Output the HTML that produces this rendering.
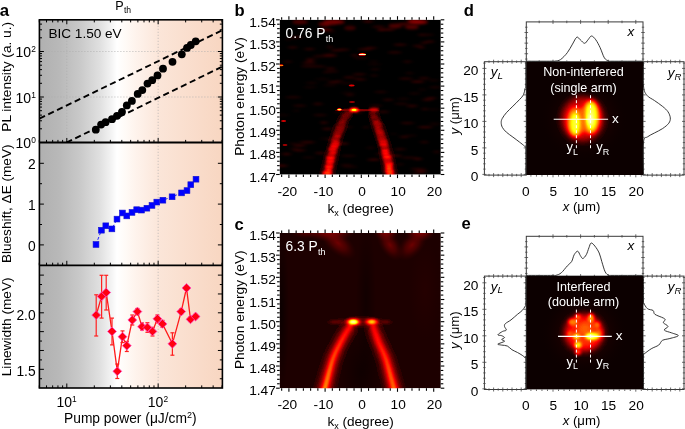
<!DOCTYPE html>
<html><head><meta charset="utf-8"><style>
html,body{margin:0;padding:0;background:#fff;overflow:hidden}
svg{display:block;will-change:transform}
text{font-family:"Liberation Sans", sans-serif}
</style></head><body>
<svg width="685" height="429" viewBox="0 0 685 429">
<rect width="685" height="429" fill="#fff"/>
<defs>
<linearGradient id="ga" gradientUnits="userSpaceOnUse" x1="39.4" y1="0" x2="222.4" y2="0">
<stop offset="0" stop-color="#b0b0b0"/>
<stop offset="0.113" stop-color="#b9b9b9"/>
<stop offset="0.222" stop-color="#c9c9c9"/>
<stop offset="0.331" stop-color="#e0e0e0"/>
<stop offset="0.386" stop-color="#f1f1f1"/>
<stop offset="0.424" stop-color="#ffffff"/>
<stop offset="0.473" stop-color="#fffaf6"/>
<stop offset="0.528" stop-color="#fef3ec"/>
<stop offset="0.577" stop-color="#fdeee5"/>
<stop offset="0.659" stop-color="#fbe5d8"/>
<stop offset="1" stop-color="#f8d6c1"/>
</linearGradient>
</defs>
<rect x="39.4" y="19.8" width="183.0" height="368.2" fill="url(#ga)"/>
<line x1="66.8" y1="19.8" x2="66.8" y2="142.5" stroke="#acacac" stroke-width="0.8" stroke-dasharray="1 2"/>
<line x1="158.15" y1="19.8" x2="158.15" y2="388" stroke="#acacac" stroke-width="0.8" stroke-dasharray="1 2"/>
<line x1="39.4" y1="97" x2="222.4" y2="97" stroke="#acacac" stroke-width="0.8" stroke-dasharray="1 2"/>
<line x1="39.4" y1="51.5" x2="222.4" y2="51.5" stroke="#acacac" stroke-width="0.8" stroke-dasharray="1 2"/>
<line x1="39.3" y1="142.5" x2="39.3" y2="139.9" stroke="#000" stroke-width="1" />
<line x1="39.3" y1="19.8" x2="39.3" y2="22.4" stroke="#000" stroke-width="1" />
<line x1="46.53" y1="142.5" x2="46.53" y2="139.9" stroke="#000" stroke-width="1" />
<line x1="46.53" y1="19.8" x2="46.53" y2="22.4" stroke="#000" stroke-width="1" />
<line x1="52.65" y1="142.5" x2="52.65" y2="139.9" stroke="#000" stroke-width="1" />
<line x1="52.65" y1="19.8" x2="52.65" y2="22.4" stroke="#000" stroke-width="1" />
<line x1="57.95" y1="142.5" x2="57.95" y2="139.9" stroke="#000" stroke-width="1" />
<line x1="57.95" y1="19.8" x2="57.95" y2="22.4" stroke="#000" stroke-width="1" />
<line x1="62.62" y1="142.5" x2="62.62" y2="139.9" stroke="#000" stroke-width="1" />
<line x1="62.62" y1="19.8" x2="62.62" y2="22.4" stroke="#000" stroke-width="1" />
<line x1="66.8" y1="142.5" x2="66.8" y2="138" stroke="#000" stroke-width="1" />
<line x1="66.8" y1="19.8" x2="66.8" y2="24.3" stroke="#000" stroke-width="1" />
<line x1="94.3" y1="142.5" x2="94.3" y2="139.9" stroke="#000" stroke-width="1" />
<line x1="94.3" y1="19.8" x2="94.3" y2="22.4" stroke="#000" stroke-width="1" />
<line x1="110.38" y1="142.5" x2="110.38" y2="139.9" stroke="#000" stroke-width="1" />
<line x1="110.38" y1="19.8" x2="110.38" y2="22.4" stroke="#000" stroke-width="1" />
<line x1="121.8" y1="142.5" x2="121.8" y2="139.9" stroke="#000" stroke-width="1" />
<line x1="121.8" y1="19.8" x2="121.8" y2="22.4" stroke="#000" stroke-width="1" />
<line x1="130.65" y1="142.5" x2="130.65" y2="139.9" stroke="#000" stroke-width="1" />
<line x1="130.65" y1="19.8" x2="130.65" y2="22.4" stroke="#000" stroke-width="1" />
<line x1="137.88" y1="142.5" x2="137.88" y2="139.9" stroke="#000" stroke-width="1" />
<line x1="137.88" y1="19.8" x2="137.88" y2="22.4" stroke="#000" stroke-width="1" />
<line x1="144" y1="142.5" x2="144" y2="139.9" stroke="#000" stroke-width="1" />
<line x1="144" y1="19.8" x2="144" y2="22.4" stroke="#000" stroke-width="1" />
<line x1="149.3" y1="142.5" x2="149.3" y2="139.9" stroke="#000" stroke-width="1" />
<line x1="149.3" y1="19.8" x2="149.3" y2="22.4" stroke="#000" stroke-width="1" />
<line x1="153.97" y1="142.5" x2="153.97" y2="139.9" stroke="#000" stroke-width="1" />
<line x1="153.97" y1="19.8" x2="153.97" y2="22.4" stroke="#000" stroke-width="1" />
<line x1="158.15" y1="142.5" x2="158.15" y2="138" stroke="#000" stroke-width="1" />
<line x1="158.15" y1="19.8" x2="158.15" y2="24.3" stroke="#000" stroke-width="1" />
<line x1="185.65" y1="142.5" x2="185.65" y2="139.9" stroke="#000" stroke-width="1" />
<line x1="185.65" y1="19.8" x2="185.65" y2="22.4" stroke="#000" stroke-width="1" />
<line x1="201.73" y1="142.5" x2="201.73" y2="139.9" stroke="#000" stroke-width="1" />
<line x1="201.73" y1="19.8" x2="201.73" y2="22.4" stroke="#000" stroke-width="1" />
<line x1="213.15" y1="142.5" x2="213.15" y2="139.9" stroke="#000" stroke-width="1" />
<line x1="213.15" y1="19.8" x2="213.15" y2="22.4" stroke="#000" stroke-width="1" />
<line x1="222" y1="142.5" x2="222" y2="139.9" stroke="#000" stroke-width="1" />
<line x1="222" y1="19.8" x2="222" y2="22.4" stroke="#000" stroke-width="1" />
<line x1="39.3" y1="265.3" x2="39.3" y2="262.7" stroke="#000" stroke-width="1" />
<line x1="46.53" y1="265.3" x2="46.53" y2="262.7" stroke="#000" stroke-width="1" />
<line x1="52.65" y1="265.3" x2="52.65" y2="262.7" stroke="#000" stroke-width="1" />
<line x1="57.95" y1="265.3" x2="57.95" y2="262.7" stroke="#000" stroke-width="1" />
<line x1="62.62" y1="265.3" x2="62.62" y2="262.7" stroke="#000" stroke-width="1" />
<line x1="66.8" y1="265.3" x2="66.8" y2="260.8" stroke="#000" stroke-width="1" />
<line x1="94.3" y1="265.3" x2="94.3" y2="262.7" stroke="#000" stroke-width="1" />
<line x1="110.38" y1="265.3" x2="110.38" y2="262.7" stroke="#000" stroke-width="1" />
<line x1="121.8" y1="265.3" x2="121.8" y2="262.7" stroke="#000" stroke-width="1" />
<line x1="130.65" y1="265.3" x2="130.65" y2="262.7" stroke="#000" stroke-width="1" />
<line x1="137.88" y1="265.3" x2="137.88" y2="262.7" stroke="#000" stroke-width="1" />
<line x1="144" y1="265.3" x2="144" y2="262.7" stroke="#000" stroke-width="1" />
<line x1="149.3" y1="265.3" x2="149.3" y2="262.7" stroke="#000" stroke-width="1" />
<line x1="153.97" y1="265.3" x2="153.97" y2="262.7" stroke="#000" stroke-width="1" />
<line x1="158.15" y1="265.3" x2="158.15" y2="260.8" stroke="#000" stroke-width="1" />
<line x1="185.65" y1="265.3" x2="185.65" y2="262.7" stroke="#000" stroke-width="1" />
<line x1="201.73" y1="265.3" x2="201.73" y2="262.7" stroke="#000" stroke-width="1" />
<line x1="213.15" y1="265.3" x2="213.15" y2="262.7" stroke="#000" stroke-width="1" />
<line x1="222" y1="265.3" x2="222" y2="262.7" stroke="#000" stroke-width="1" />
<line x1="39.3" y1="388" x2="39.3" y2="385.4" stroke="#000" stroke-width="1" />
<line x1="46.53" y1="388" x2="46.53" y2="385.4" stroke="#000" stroke-width="1" />
<line x1="52.65" y1="388" x2="52.65" y2="385.4" stroke="#000" stroke-width="1" />
<line x1="57.95" y1="388" x2="57.95" y2="385.4" stroke="#000" stroke-width="1" />
<line x1="62.62" y1="388" x2="62.62" y2="385.4" stroke="#000" stroke-width="1" />
<line x1="66.8" y1="388" x2="66.8" y2="383.5" stroke="#000" stroke-width="1" />
<line x1="94.3" y1="388" x2="94.3" y2="385.4" stroke="#000" stroke-width="1" />
<line x1="110.38" y1="388" x2="110.38" y2="385.4" stroke="#000" stroke-width="1" />
<line x1="121.8" y1="388" x2="121.8" y2="385.4" stroke="#000" stroke-width="1" />
<line x1="130.65" y1="388" x2="130.65" y2="385.4" stroke="#000" stroke-width="1" />
<line x1="137.88" y1="388" x2="137.88" y2="385.4" stroke="#000" stroke-width="1" />
<line x1="144" y1="388" x2="144" y2="385.4" stroke="#000" stroke-width="1" />
<line x1="149.3" y1="388" x2="149.3" y2="385.4" stroke="#000" stroke-width="1" />
<line x1="153.97" y1="388" x2="153.97" y2="385.4" stroke="#000" stroke-width="1" />
<line x1="158.15" y1="388" x2="158.15" y2="383.5" stroke="#000" stroke-width="1" />
<line x1="185.65" y1="388" x2="185.65" y2="385.4" stroke="#000" stroke-width="1" />
<line x1="201.73" y1="388" x2="201.73" y2="385.4" stroke="#000" stroke-width="1" />
<line x1="213.15" y1="388" x2="213.15" y2="385.4" stroke="#000" stroke-width="1" />
<line x1="222" y1="388" x2="222" y2="385.4" stroke="#000" stroke-width="1" />
<line x1="39.4" y1="128.8" x2="42" y2="128.8" stroke="#000" stroke-width="1" />
<line x1="222.4" y1="128.8" x2="219.8" y2="128.8" stroke="#000" stroke-width="1" />
<line x1="39.4" y1="120.79" x2="42" y2="120.79" stroke="#000" stroke-width="1" />
<line x1="222.4" y1="120.79" x2="219.8" y2="120.79" stroke="#000" stroke-width="1" />
<line x1="39.4" y1="115.11" x2="42" y2="115.11" stroke="#000" stroke-width="1" />
<line x1="222.4" y1="115.11" x2="219.8" y2="115.11" stroke="#000" stroke-width="1" />
<line x1="39.4" y1="110.7" x2="42" y2="110.7" stroke="#000" stroke-width="1" />
<line x1="222.4" y1="110.7" x2="219.8" y2="110.7" stroke="#000" stroke-width="1" />
<line x1="39.4" y1="107.09" x2="42" y2="107.09" stroke="#000" stroke-width="1" />
<line x1="222.4" y1="107.09" x2="219.8" y2="107.09" stroke="#000" stroke-width="1" />
<line x1="39.4" y1="104.05" x2="42" y2="104.05" stroke="#000" stroke-width="1" />
<line x1="222.4" y1="104.05" x2="219.8" y2="104.05" stroke="#000" stroke-width="1" />
<line x1="39.4" y1="101.41" x2="42" y2="101.41" stroke="#000" stroke-width="1" />
<line x1="222.4" y1="101.41" x2="219.8" y2="101.41" stroke="#000" stroke-width="1" />
<line x1="39.4" y1="99.08" x2="42" y2="99.08" stroke="#000" stroke-width="1" />
<line x1="222.4" y1="99.08" x2="219.8" y2="99.08" stroke="#000" stroke-width="1" />
<line x1="39.4" y1="97" x2="43.9" y2="97" stroke="#000" stroke-width="1" />
<line x1="222.4" y1="97" x2="217.9" y2="97" stroke="#000" stroke-width="1" />
<line x1="39.4" y1="83.3" x2="42" y2="83.3" stroke="#000" stroke-width="1" />
<line x1="222.4" y1="83.3" x2="219.8" y2="83.3" stroke="#000" stroke-width="1" />
<line x1="39.4" y1="75.29" x2="42" y2="75.29" stroke="#000" stroke-width="1" />
<line x1="222.4" y1="75.29" x2="219.8" y2="75.29" stroke="#000" stroke-width="1" />
<line x1="39.4" y1="69.61" x2="42" y2="69.61" stroke="#000" stroke-width="1" />
<line x1="222.4" y1="69.61" x2="219.8" y2="69.61" stroke="#000" stroke-width="1" />
<line x1="39.4" y1="65.2" x2="42" y2="65.2" stroke="#000" stroke-width="1" />
<line x1="222.4" y1="65.2" x2="219.8" y2="65.2" stroke="#000" stroke-width="1" />
<line x1="39.4" y1="61.59" x2="42" y2="61.59" stroke="#000" stroke-width="1" />
<line x1="222.4" y1="61.59" x2="219.8" y2="61.59" stroke="#000" stroke-width="1" />
<line x1="39.4" y1="58.55" x2="42" y2="58.55" stroke="#000" stroke-width="1" />
<line x1="222.4" y1="58.55" x2="219.8" y2="58.55" stroke="#000" stroke-width="1" />
<line x1="39.4" y1="55.91" x2="42" y2="55.91" stroke="#000" stroke-width="1" />
<line x1="222.4" y1="55.91" x2="219.8" y2="55.91" stroke="#000" stroke-width="1" />
<line x1="39.4" y1="53.58" x2="42" y2="53.58" stroke="#000" stroke-width="1" />
<line x1="222.4" y1="53.58" x2="219.8" y2="53.58" stroke="#000" stroke-width="1" />
<line x1="39.4" y1="51.5" x2="43.9" y2="51.5" stroke="#000" stroke-width="1" />
<line x1="222.4" y1="51.5" x2="217.9" y2="51.5" stroke="#000" stroke-width="1" />
<line x1="39.4" y1="37.8" x2="42" y2="37.8" stroke="#000" stroke-width="1" />
<line x1="222.4" y1="37.8" x2="219.8" y2="37.8" stroke="#000" stroke-width="1" />
<line x1="39.4" y1="29.79" x2="42" y2="29.79" stroke="#000" stroke-width="1" />
<line x1="222.4" y1="29.79" x2="219.8" y2="29.79" stroke="#000" stroke-width="1" />
<line x1="39.4" y1="24.11" x2="42" y2="24.11" stroke="#000" stroke-width="1" />
<line x1="222.4" y1="24.11" x2="219.8" y2="24.11" stroke="#000" stroke-width="1" />
<line x1="39.4" y1="244.9" x2="43.9" y2="244.9" stroke="#000" stroke-width="1" />
<line x1="222.4" y1="244.9" x2="217.9" y2="244.9" stroke="#000" stroke-width="1" />
<line x1="39.4" y1="224.5" x2="42" y2="224.5" stroke="#000" stroke-width="1" />
<line x1="222.4" y1="224.5" x2="219.8" y2="224.5" stroke="#000" stroke-width="1" />
<line x1="39.4" y1="204.1" x2="43.9" y2="204.1" stroke="#000" stroke-width="1" />
<line x1="222.4" y1="204.1" x2="217.9" y2="204.1" stroke="#000" stroke-width="1" />
<line x1="39.4" y1="183.7" x2="42" y2="183.7" stroke="#000" stroke-width="1" />
<line x1="222.4" y1="183.7" x2="219.8" y2="183.7" stroke="#000" stroke-width="1" />
<line x1="39.4" y1="163.3" x2="43.9" y2="163.3" stroke="#000" stroke-width="1" />
<line x1="222.4" y1="163.3" x2="217.9" y2="163.3" stroke="#000" stroke-width="1" />
<line x1="39.4" y1="275.12" x2="43.9" y2="275.12" stroke="#000" stroke-width="1" />
<line x1="222.4" y1="275.12" x2="217.9" y2="275.12" stroke="#000" stroke-width="1" />
<line x1="39.4" y1="284.54" x2="42" y2="284.54" stroke="#000" stroke-width="1" />
<line x1="222.4" y1="284.54" x2="219.8" y2="284.54" stroke="#000" stroke-width="1" />
<line x1="39.4" y1="293.96" x2="43.9" y2="293.96" stroke="#000" stroke-width="1" />
<line x1="222.4" y1="293.96" x2="217.9" y2="293.96" stroke="#000" stroke-width="1" />
<line x1="39.4" y1="303.38" x2="42" y2="303.38" stroke="#000" stroke-width="1" />
<line x1="222.4" y1="303.38" x2="219.8" y2="303.38" stroke="#000" stroke-width="1" />
<line x1="39.4" y1="312.8" x2="43.9" y2="312.8" stroke="#000" stroke-width="1" />
<line x1="222.4" y1="312.8" x2="217.9" y2="312.8" stroke="#000" stroke-width="1" />
<line x1="39.4" y1="322.22" x2="42" y2="322.22" stroke="#000" stroke-width="1" />
<line x1="222.4" y1="322.22" x2="219.8" y2="322.22" stroke="#000" stroke-width="1" />
<line x1="39.4" y1="331.64" x2="43.9" y2="331.64" stroke="#000" stroke-width="1" />
<line x1="222.4" y1="331.64" x2="217.9" y2="331.64" stroke="#000" stroke-width="1" />
<line x1="39.4" y1="341.06" x2="42" y2="341.06" stroke="#000" stroke-width="1" />
<line x1="222.4" y1="341.06" x2="219.8" y2="341.06" stroke="#000" stroke-width="1" />
<line x1="39.4" y1="350.48" x2="43.9" y2="350.48" stroke="#000" stroke-width="1" />
<line x1="222.4" y1="350.48" x2="217.9" y2="350.48" stroke="#000" stroke-width="1" />
<line x1="39.4" y1="359.9" x2="42" y2="359.9" stroke="#000" stroke-width="1" />
<line x1="222.4" y1="359.9" x2="219.8" y2="359.9" stroke="#000" stroke-width="1" />
<line x1="39.4" y1="369.32" x2="43.9" y2="369.32" stroke="#000" stroke-width="1" />
<line x1="222.4" y1="369.32" x2="217.9" y2="369.32" stroke="#000" stroke-width="1" />
<line x1="39.4" y1="378.74" x2="42" y2="378.74" stroke="#000" stroke-width="1" />
<line x1="222.4" y1="378.74" x2="219.8" y2="378.74" stroke="#000" stroke-width="1" />
<clipPath id="c1"><rect x="39.4" y="19.8" width="183.0" height="122.7"/></clipPath>
<g clip-path="url(#c1)" stroke="#000" stroke-width="1.9" stroke-dasharray="6.2 3.6" fill="none">
<line x1="39.4" y1="118.6" x2="222.4" y2="30.2"/>
<line x1="66.4" y1="142.6" x2="222.4" y2="66.6"/>
</g>
<circle cx="95.8" cy="129.7" r="3.9" fill="#000"/>
<circle cx="101.1" cy="124.6" r="3.9" fill="#000"/>
<circle cx="105.6" cy="122.2" r="3.9" fill="#000"/>
<circle cx="112" cy="119.2" r="3.9" fill="#000"/>
<circle cx="117" cy="115.8" r="3.9" fill="#000"/>
<circle cx="122" cy="111.8" r="3.9" fill="#000"/>
<circle cx="126.8" cy="105.4" r="3.9" fill="#000"/>
<circle cx="131.9" cy="100.9" r="3.9" fill="#000"/>
<circle cx="137.7" cy="93.9" r="3.9" fill="#000"/>
<circle cx="142.3" cy="90.1" r="3.9" fill="#000"/>
<circle cx="147.5" cy="83.6" r="3.9" fill="#000"/>
<circle cx="152.2" cy="80.2" r="3.9" fill="#000"/>
<circle cx="157.5" cy="75.4" r="3.9" fill="#000"/>
<circle cx="163" cy="68.7" r="3.9" fill="#000"/>
<circle cx="172.5" cy="61.8" r="3.9" fill="#000"/>
<circle cx="181.8" cy="54.3" r="3.9" fill="#000"/>
<circle cx="187" cy="47.9" r="3.9" fill="#000"/>
<circle cx="190.8" cy="45" r="3.9" fill="#000"/>
<circle cx="195.7" cy="41.3" r="3.9" fill="#000"/>
<polyline points="96.0,244.5 101.4,230.2 105.8,225.8 111.9,228.9 117.0,219.1 122.4,213 126.8,215.9 132,212.4 136.7,209.7 141.5,210.1 146.9,208.2 152,205.4 156.8,202.1 162.9,200.2 172.1,196.8 181.6,192.9 187,190.6 190.8,184.7 196,179.2" fill="none" stroke="#2020ff" stroke-width="1" stroke-dasharray="3 2"/>
<rect x="93.1" y="241.6" width="5.8" height="5.8" fill="#0000ff" stroke="#1515d0" stroke-width="0.6"/>
<rect x="98.5" y="227.29999999999998" width="5.8" height="5.8" fill="#0000ff" stroke="#1515d0" stroke-width="0.6"/>
<rect x="102.89999999999999" y="222.9" width="5.8" height="5.8" fill="#0000ff" stroke="#1515d0" stroke-width="0.6"/>
<rect x="109.0" y="226.0" width="5.8" height="5.8" fill="#0000ff" stroke="#1515d0" stroke-width="0.6"/>
<rect x="114.1" y="216.2" width="5.8" height="5.8" fill="#0000ff" stroke="#1515d0" stroke-width="0.6"/>
<rect x="119.5" y="210.1" width="5.8" height="5.8" fill="#0000ff" stroke="#1515d0" stroke-width="0.6"/>
<rect x="123.89999999999999" y="213.0" width="5.8" height="5.8" fill="#0000ff" stroke="#1515d0" stroke-width="0.6"/>
<rect x="129.1" y="209.5" width="5.8" height="5.8" fill="#0000ff" stroke="#1515d0" stroke-width="0.6"/>
<rect x="133.79999999999998" y="206.79999999999998" width="5.8" height="5.8" fill="#0000ff" stroke="#1515d0" stroke-width="0.6"/>
<rect x="138.6" y="207.2" width="5.8" height="5.8" fill="#0000ff" stroke="#1515d0" stroke-width="0.6"/>
<rect x="144.0" y="205.29999999999998" width="5.8" height="5.8" fill="#0000ff" stroke="#1515d0" stroke-width="0.6"/>
<rect x="149.1" y="202.5" width="5.8" height="5.8" fill="#0000ff" stroke="#1515d0" stroke-width="0.6"/>
<rect x="153.9" y="199.2" width="5.8" height="5.8" fill="#0000ff" stroke="#1515d0" stroke-width="0.6"/>
<rect x="160.0" y="197.29999999999998" width="5.8" height="5.8" fill="#0000ff" stroke="#1515d0" stroke-width="0.6"/>
<rect x="169.2" y="193.9" width="5.8" height="5.8" fill="#0000ff" stroke="#1515d0" stroke-width="0.6"/>
<rect x="178.7" y="190.0" width="5.8" height="5.8" fill="#0000ff" stroke="#1515d0" stroke-width="0.6"/>
<rect x="184.1" y="187.7" width="5.8" height="5.8" fill="#0000ff" stroke="#1515d0" stroke-width="0.6"/>
<rect x="187.9" y="181.79999999999998" width="5.8" height="5.8" fill="#0000ff" stroke="#1515d0" stroke-width="0.6"/>
<rect x="193.1" y="176.29999999999998" width="5.8" height="5.8" fill="#0000ff" stroke="#1515d0" stroke-width="0.6"/>
<polyline points="96.2,315.1 101.6,296.4 106.2,292.5 112,331.4 117.3,371.3 122.5,336.7 126.8,345.7 132.3,320 137.4,311.6 142,326.7 147.4,327.4 152.5,331.4 157.4,318.8 162.5,323.9 172.4,343.8 181.2,311.6 186.5,288 190.5,319.3 195.6,316.5" fill="none" stroke="#ff1a1a" stroke-width="1.3"/>
<line x1="96.2" y1="294.8" x2="96.2" y2="336" stroke="#ff2020" stroke-width="1.2" />
<line x1="94.2" y1="294.8" x2="98.2" y2="294.8" stroke="#ff2020" stroke-width="1.2" />
<line x1="94.2" y1="336" x2="98.2" y2="336" stroke="#ff2020" stroke-width="1.2" />
<line x1="101.6" y1="275.3" x2="101.6" y2="318.1" stroke="#ff2020" stroke-width="1.2" />
<line x1="99.6" y1="275.3" x2="103.6" y2="275.3" stroke="#ff2020" stroke-width="1.2" />
<line x1="99.6" y1="318.1" x2="103.6" y2="318.1" stroke="#ff2020" stroke-width="1.2" />
<line x1="106.2" y1="275.3" x2="106.2" y2="310" stroke="#ff2020" stroke-width="1.2" />
<line x1="104.2" y1="275.3" x2="108.2" y2="275.3" stroke="#ff2020" stroke-width="1.2" />
<line x1="104.2" y1="310" x2="108.2" y2="310" stroke="#ff2020" stroke-width="1.2" />
<line x1="112" y1="318.1" x2="112" y2="344.9" stroke="#ff2020" stroke-width="1.2" />
<line x1="110" y1="318.1" x2="114" y2="318.1" stroke="#ff2020" stroke-width="1.2" />
<line x1="110" y1="344.9" x2="114" y2="344.9" stroke="#ff2020" stroke-width="1.2" />
<line x1="117.3" y1="364" x2="117.3" y2="378.5" stroke="#ff2020" stroke-width="1.2" />
<line x1="115.3" y1="364" x2="119.3" y2="364" stroke="#ff2020" stroke-width="1.2" />
<line x1="115.3" y1="378.5" x2="119.3" y2="378.5" stroke="#ff2020" stroke-width="1.2" />
<line x1="122.5" y1="330.9" x2="122.5" y2="342.6" stroke="#ff2020" stroke-width="1.2" />
<line x1="120.5" y1="330.9" x2="124.5" y2="330.9" stroke="#ff2020" stroke-width="1.2" />
<line x1="120.5" y1="342.6" x2="124.5" y2="342.6" stroke="#ff2020" stroke-width="1.2" />
<line x1="126.8" y1="341.4" x2="126.8" y2="351.5" stroke="#ff2020" stroke-width="1.2" />
<line x1="124.8" y1="341.4" x2="128.8" y2="341.4" stroke="#ff2020" stroke-width="1.2" />
<line x1="124.8" y1="351.5" x2="128.8" y2="351.5" stroke="#ff2020" stroke-width="1.2" />
<line x1="132.3" y1="315" x2="132.3" y2="325" stroke="#ff2020" stroke-width="1.2" />
<line x1="130.3" y1="315" x2="134.3" y2="315" stroke="#ff2020" stroke-width="1.2" />
<line x1="130.3" y1="325" x2="134.3" y2="325" stroke="#ff2020" stroke-width="1.2" />
<line x1="137.4" y1="308.5" x2="137.4" y2="314.5" stroke="#ff2020" stroke-width="1.2" />
<line x1="135.4" y1="308.5" x2="139.4" y2="308.5" stroke="#ff2020" stroke-width="1.2" />
<line x1="135.4" y1="314.5" x2="139.4" y2="314.5" stroke="#ff2020" stroke-width="1.2" />
<line x1="142" y1="323" x2="142" y2="330" stroke="#ff2020" stroke-width="1.2" />
<line x1="140" y1="323" x2="144" y2="323" stroke="#ff2020" stroke-width="1.2" />
<line x1="140" y1="330" x2="144" y2="330" stroke="#ff2020" stroke-width="1.2" />
<line x1="147.4" y1="322.7" x2="147.4" y2="332.3" stroke="#ff2020" stroke-width="1.2" />
<line x1="145.4" y1="322.7" x2="149.4" y2="322.7" stroke="#ff2020" stroke-width="1.2" />
<line x1="145.4" y1="332.3" x2="149.4" y2="332.3" stroke="#ff2020" stroke-width="1.2" />
<line x1="152.5" y1="327.4" x2="152.5" y2="336" stroke="#ff2020" stroke-width="1.2" />
<line x1="150.5" y1="327.4" x2="154.5" y2="327.4" stroke="#ff2020" stroke-width="1.2" />
<line x1="150.5" y1="336" x2="154.5" y2="336" stroke="#ff2020" stroke-width="1.2" />
<line x1="157.4" y1="315" x2="157.4" y2="322.8" stroke="#ff2020" stroke-width="1.2" />
<line x1="155.4" y1="315" x2="159.4" y2="315" stroke="#ff2020" stroke-width="1.2" />
<line x1="155.4" y1="322.8" x2="159.4" y2="322.8" stroke="#ff2020" stroke-width="1.2" />
<line x1="162.5" y1="320.4" x2="162.5" y2="327.3" stroke="#ff2020" stroke-width="1.2" />
<line x1="160.5" y1="320.4" x2="164.5" y2="320.4" stroke="#ff2020" stroke-width="1.2" />
<line x1="160.5" y1="327.3" x2="164.5" y2="327.3" stroke="#ff2020" stroke-width="1.2" />
<line x1="172.4" y1="332.8" x2="172.4" y2="355.2" stroke="#ff2020" stroke-width="1.2" />
<line x1="170.4" y1="332.8" x2="174.4" y2="332.8" stroke="#ff2020" stroke-width="1.2" />
<line x1="170.4" y1="355.2" x2="174.4" y2="355.2" stroke="#ff2020" stroke-width="1.2" />
<line x1="181.2" y1="309" x2="181.2" y2="314" stroke="#ff2020" stroke-width="1.2" />
<line x1="179.2" y1="309" x2="183.2" y2="309" stroke="#ff2020" stroke-width="1.2" />
<line x1="179.2" y1="314" x2="183.2" y2="314" stroke="#ff2020" stroke-width="1.2" />
<line x1="186.5" y1="286" x2="186.5" y2="290" stroke="#ff2020" stroke-width="1.2" />
<line x1="184.5" y1="286" x2="188.5" y2="286" stroke="#ff2020" stroke-width="1.2" />
<line x1="184.5" y1="290" x2="188.5" y2="290" stroke="#ff2020" stroke-width="1.2" />
<line x1="190.5" y1="317" x2="190.5" y2="321.5" stroke="#ff2020" stroke-width="1.2" />
<line x1="188.5" y1="317" x2="192.5" y2="317" stroke="#ff2020" stroke-width="1.2" />
<line x1="188.5" y1="321.5" x2="192.5" y2="321.5" stroke="#ff2020" stroke-width="1.2" />
<line x1="195.6" y1="314.5" x2="195.6" y2="318.5" stroke="#ff2020" stroke-width="1.2" />
<line x1="193.6" y1="314.5" x2="197.6" y2="314.5" stroke="#ff2020" stroke-width="1.2" />
<line x1="193.6" y1="318.5" x2="197.6" y2="318.5" stroke="#ff2020" stroke-width="1.2" />
<path d="M96.2 310.70000000000005L100.60000000000001 315.1L96.2 319.5L91.8 315.1Z" fill="#ff0010" stroke="#ff40c0" stroke-width="0.8"/>
<path d="M101.6 292.0L106.0 296.4L101.6 300.79999999999995L97.19999999999999 296.4Z" fill="#ff0010" stroke="#ff40c0" stroke-width="0.8"/>
<path d="M106.2 288.1L110.60000000000001 292.5L106.2 296.9L101.8 292.5Z" fill="#ff0010" stroke="#ff40c0" stroke-width="0.8"/>
<path d="M112 327.0L116.4 331.4L112 335.79999999999995L107.6 331.4Z" fill="#ff0010" stroke="#ff40c0" stroke-width="0.8"/>
<path d="M117.3 366.90000000000003L121.7 371.3L117.3 375.7L112.89999999999999 371.3Z" fill="#ff0010" stroke="#ff40c0" stroke-width="0.8"/>
<path d="M122.5 332.3L126.9 336.7L122.5 341.09999999999997L118.1 336.7Z" fill="#ff0010" stroke="#ff40c0" stroke-width="0.8"/>
<path d="M126.8 341.3L131.2 345.7L126.8 350.09999999999997L122.39999999999999 345.7Z" fill="#ff0010" stroke="#ff40c0" stroke-width="0.8"/>
<path d="M132.3 315.6L136.70000000000002 320L132.3 324.4L127.9 320Z" fill="#ff0010" stroke="#ff40c0" stroke-width="0.8"/>
<path d="M137.4 307.20000000000005L141.8 311.6L137.4 316.0L133.0 311.6Z" fill="#ff0010" stroke="#ff40c0" stroke-width="0.8"/>
<path d="M142 322.3L146.4 326.7L142 331.09999999999997L137.6 326.7Z" fill="#ff0010" stroke="#ff40c0" stroke-width="0.8"/>
<path d="M147.4 323.0L151.8 327.4L147.4 331.79999999999995L143.0 327.4Z" fill="#ff0010" stroke="#ff40c0" stroke-width="0.8"/>
<path d="M152.5 327.0L156.9 331.4L152.5 335.79999999999995L148.1 331.4Z" fill="#ff0010" stroke="#ff40c0" stroke-width="0.8"/>
<path d="M157.4 314.40000000000003L161.8 318.8L157.4 323.2L153.0 318.8Z" fill="#ff0010" stroke="#ff40c0" stroke-width="0.8"/>
<path d="M162.5 319.5L166.9 323.9L162.5 328.29999999999995L158.1 323.9Z" fill="#ff0010" stroke="#ff40c0" stroke-width="0.8"/>
<path d="M172.4 339.40000000000003L176.8 343.8L172.4 348.2L168.0 343.8Z" fill="#ff0010" stroke="#ff40c0" stroke-width="0.8"/>
<path d="M181.2 307.20000000000005L185.6 311.6L181.2 316.0L176.79999999999998 311.6Z" fill="#ff0010" stroke="#ff40c0" stroke-width="0.8"/>
<path d="M186.5 283.6L190.9 288L186.5 292.4L182.1 288Z" fill="#ff0010" stroke="#ff40c0" stroke-width="0.8"/>
<path d="M190.5 314.90000000000003L194.9 319.3L190.5 323.7L186.1 319.3Z" fill="#ff0010" stroke="#ff40c0" stroke-width="0.8"/>
<path d="M195.6 312.1L200.0 316.5L195.6 320.9L191.2 316.5Z" fill="#ff0010" stroke="#ff40c0" stroke-width="0.8"/>
<rect x="39.4" y="19.8" width="183.0" height="368.2" fill="none" stroke="#000" stroke-width="1.6"/>
<line x1="39.4" y1="142.5" x2="222.4" y2="142.5" stroke="#000" stroke-width="1.8" />
<line x1="39.4" y1="265.3" x2="222.4" y2="265.3" stroke="#000" stroke-width="1.8" />
<text x="-0.2" y="16" font-size="16.8" text-anchor="start" fill="#000" font-weight="bold" font-style="normal" >a</text>
<text x="115.2" y="9.6" font-size="12.6">P<tspan font-size="8.6" dy="3.8" dx="0.3">th</tspan></text>
<text x="48.4" y="37.6" font-size="13.6" text-anchor="start" fill="#000" font-weight="normal" font-style="normal" >BIC 1.50 eV</text>
<text x="35.8" y="148.1" font-size="14.0" text-anchor="end">10<tspan font-size="8.4" dy="-4.8">0</tspan></text>
<text x="35.8" y="102.6" font-size="14.0" text-anchor="end">10<tspan font-size="8.4" dy="-4.8">1</tspan></text>
<text x="35.8" y="57.1" font-size="14.0" text-anchor="end">10<tspan font-size="8.4" dy="-4.8">2</tspan></text>
<text x="35.6" y="250.5" font-size="13.8" text-anchor="end" fill="#000" font-weight="normal" font-style="normal" >0</text>
<text x="35.6" y="209.7" font-size="13.8" text-anchor="end" fill="#000" font-weight="normal" font-style="normal" >1</text>
<text x="35.6" y="168.9" font-size="13.8" text-anchor="end" fill="#000" font-weight="normal" font-style="normal" >2</text>
<text x="35.6" y="376.1" font-size="13.8" text-anchor="end" fill="#000" font-weight="normal" font-style="normal" >1.5</text>
<text x="35.6" y="319.6" font-size="13.8" text-anchor="end" fill="#000" font-weight="normal" font-style="normal" >2.0</text>
<text x="66.6" y="406.5" font-size="14.0" text-anchor="middle">10<tspan font-size="8.4" dy="-4.8">1</tspan></text>
<text x="157.95" y="406.5" font-size="14.0" text-anchor="middle">10<tspan font-size="8.4" dy="-4.8">2</tspan></text>
<text x="64" y="423.2" font-size="13.8">Pump power (μJ/cm<tspan font-size="9" dy="-5">2</tspan><tspan dy="5">)</tspan></text>
<text transform="translate(11.3,76.8) rotate(-90)" font-size="13.7" text-anchor="middle">PL intensity (a. u.)</text>
<text transform="translate(11.3,203.8) rotate(-90)" font-size="13.6" text-anchor="middle">Blueshift, ΔE (meV)</text>
<text transform="translate(11.3,326.8) rotate(-90)" font-size="13.7" text-anchor="middle">Linewidth (meV)</text>
<defs><filter id="hot" x="0" y="0" width="1" height="1" color-interpolation-filters="sRGB"><feComponentTransfer><feFuncR type="table" tableValues="0 1 1 1"/><feFuncG type="table" tableValues="0 0 1 1"/><feFuncB type="table" tableValues="0 0 0 1"/></feComponentTransfer></filter><filter id="b05" x="-50%" y="-50%" width="200%" height="200%"><feGaussianBlur stdDeviation="0.5"/></filter><filter id="b1" x="-50%" y="-50%" width="200%" height="200%"><feGaussianBlur stdDeviation="1"/></filter><filter id="b15" x="-50%" y="-50%" width="200%" height="200%"><feGaussianBlur stdDeviation="1.5"/></filter><filter id="b2" x="-50%" y="-50%" width="200%" height="200%"><feGaussianBlur stdDeviation="2"/></filter><filter id="b3" x="-50%" y="-50%" width="200%" height="200%"><feGaussianBlur stdDeviation="3"/></filter><filter id="b5" x="-50%" y="-50%" width="200%" height="200%"><feGaussianBlur stdDeviation="5"/></filter><filter id="b8" x="-50%" y="-50%" width="200%" height="200%"><feGaussianBlur stdDeviation="8"/></filter><filter id="bh" x="-50%" y="-50%" width="200%" height="200%"><feGaussianBlur stdDeviation="2.2 0.9"/></filter></defs>
<clipPath id="cb"><rect x="279.7" y="19.8" width="161.0" height="154.7"/></clipPath>
<g clip-path="url(#cb)">
<rect x="279.7" y="19.8" width="161.0" height="154.7" fill="#000"/>
<g filter="url(#bh)">
<ellipse cx="318.01" cy="103.99" rx="4.53" ry="1.4" fill="#6a0000" opacity="0.32"/>
<ellipse cx="380.44" cy="29.94" rx="2.57" ry="1.4" fill="#6a0000" opacity="0.63"/>
<ellipse cx="321.46" cy="56.05" rx="7.98" ry="1.4" fill="#6a0000" opacity="0.28"/>
<ellipse cx="414.37" cy="93.49" rx="6.01" ry="1.4" fill="#6a0000" opacity="0.17"/>
<ellipse cx="381.91" cy="154.09" rx="5.38" ry="1.4" fill="#6a0000" opacity="0.36"/>
<ellipse cx="387.8" cy="29.71" rx="6.67" ry="1.4" fill="#6a0000" opacity="0.50"/>
<ellipse cx="328.2" cy="24.6" rx="7.26" ry="1.4" fill="#6a0000" opacity="0.44"/>
<ellipse cx="395.43" cy="155.75" rx="6.43" ry="1.4" fill="#6a0000" opacity="0.42"/>
<ellipse cx="343.29" cy="143.7" rx="4.95" ry="1.4" fill="#6a0000" opacity="0.43"/>
<ellipse cx="421.2" cy="34.88" rx="3.25" ry="1.4" fill="#6a0000" opacity="0.19"/>
<ellipse cx="435.14" cy="87.27" rx="5.95" ry="1.4" fill="#6a0000" opacity="0.22"/>
<ellipse cx="361.37" cy="79.49" rx="4.43" ry="1.4" fill="#6a0000" opacity="0.31"/>
<ellipse cx="373.76" cy="159.68" rx="6.25" ry="1.4" fill="#6a0000" opacity="0.43"/>
<ellipse cx="417.58" cy="173.11" rx="6.19" ry="1.4" fill="#6a0000" opacity="0.17"/>
<ellipse cx="418.26" cy="169.03" rx="7.48" ry="1.4" fill="#6a0000" opacity="0.31"/>
<ellipse cx="394.62" cy="52.46" rx="7.07" ry="1.4" fill="#6a0000" opacity="0.31"/>
<ellipse cx="325.58" cy="29.62" rx="7.2" ry="1.4" fill="#6a0000" opacity="0.71"/>
<ellipse cx="293.95" cy="143.65" rx="4.76" ry="1.4" fill="#6a0000" opacity="0.17"/>
<ellipse cx="327.02" cy="138.73" rx="7.3" ry="1.4" fill="#6a0000" opacity="0.13"/>
<ellipse cx="378.64" cy="26.75" rx="6.45" ry="1.4" fill="#6a0000" opacity="0.37"/>
<ellipse cx="421.53" cy="171.5" rx="5.28" ry="1.4" fill="#6a0000" opacity="0.45"/>
<ellipse cx="329.56" cy="31.71" rx="5.8" ry="1.4" fill="#6a0000" opacity="0.21"/>
<ellipse cx="311.48" cy="82.91" rx="5.86" ry="1.4" fill="#6a0000" opacity="0.17"/>
<ellipse cx="286.53" cy="154.05" rx="4.23" ry="1.4" fill="#6a0000" opacity="0.44"/>
<ellipse cx="424.06" cy="78.24" rx="5.03" ry="1.4" fill="#6a0000" opacity="0.29"/>
<ellipse cx="383.37" cy="111.95" rx="5.58" ry="1.4" fill="#6a0000" opacity="0.32"/>
<ellipse cx="431.14" cy="98.24" rx="4.87" ry="1.4" fill="#6a0000" opacity="0.36"/>
<ellipse cx="317.96" cy="66.38" rx="7.88" ry="1.4" fill="#6a0000" opacity="0.29"/>
<ellipse cx="368" cy="21.57" rx="4.78" ry="1.4" fill="#6a0000" opacity="0.50"/>
<ellipse cx="282.93" cy="115.06" rx="5.98" ry="1.4" fill="#6a0000" opacity="0.14"/>
<ellipse cx="380.7" cy="91.93" rx="6.24" ry="1.4" fill="#6a0000" opacity="0.24"/>
<ellipse cx="393.52" cy="133.97" rx="2.62" ry="1.4" fill="#6a0000" opacity="0.14"/>
<ellipse cx="388.54" cy="168.82" rx="3.88" ry="1.4" fill="#6a0000" opacity="0.27"/>
<ellipse cx="375.12" cy="69.31" rx="4.5" ry="1.4" fill="#6a0000" opacity="0.22"/>
<ellipse cx="339.13" cy="111.94" rx="4.15" ry="1.4" fill="#6a0000" opacity="0.24"/>
<ellipse cx="404.04" cy="23.96" rx="5.63" ry="1.4" fill="#6a0000" opacity="0.58"/>
<ellipse cx="329.61" cy="54.23" rx="6.92" ry="1.4" fill="#6a0000" opacity="0.20"/>
<ellipse cx="309.87" cy="87.13" rx="6.34" ry="1.4" fill="#6a0000" opacity="0.15"/>
<ellipse cx="331.54" cy="71.43" rx="7.08" ry="1.4" fill="#6a0000" opacity="0.26"/>
<ellipse cx="417.44" cy="45.99" rx="4.35" ry="1.4" fill="#6a0000" opacity="0.33"/>
<ellipse cx="422.17" cy="89.59" rx="3.74" ry="1.4" fill="#6a0000" opacity="0.16"/>
<ellipse cx="364.97" cy="49.32" rx="6.94" ry="1.4" fill="#6a0000" opacity="0.40"/>
<ellipse cx="309.26" cy="62.9" rx="6.94" ry="1.4" fill="#6a0000" opacity="0.33"/>
<ellipse cx="409.51" cy="73.22" rx="3.21" ry="1.4" fill="#6a0000" opacity="0.22"/>
<ellipse cx="407.51" cy="61.75" rx="4.4" ry="1.4" fill="#6a0000" opacity="0.26"/>
<ellipse cx="347.28" cy="83.15" rx="7.56" ry="1.4" fill="#6a0000" opacity="0.17"/>
<ellipse cx="280.45" cy="165.72" rx="7.34" ry="1.4" fill="#6a0000" opacity="0.45"/>
<ellipse cx="349.63" cy="166.79" rx="7.6" ry="1.4" fill="#6a0000" opacity="0.19"/>
<ellipse cx="399.73" cy="149.24" rx="6.15" ry="1.4" fill="#6a0000" opacity="0.29"/>
<ellipse cx="326.24" cy="72.56" rx="3.75" ry="1.4" fill="#6a0000" opacity="0.14"/>
<ellipse cx="374.48" cy="64.2" rx="6.96" ry="1.4" fill="#6a0000" opacity="0.13"/>
<ellipse cx="425.18" cy="127.12" rx="7.58" ry="1.4" fill="#6a0000" opacity="0.42"/>
<ellipse cx="424.55" cy="109.05" rx="2.57" ry="1.4" fill="#6a0000" opacity="0.37"/>
<ellipse cx="307.36" cy="66.19" rx="6.15" ry="1.4" fill="#6a0000" opacity="0.29"/>
<ellipse cx="346.31" cy="165.07" rx="5.87" ry="1.4" fill="#6a0000" opacity="0.23"/>
<ellipse cx="320.35" cy="153.1" rx="5.12" ry="1.4" fill="#6a0000" opacity="0.38"/>
<ellipse cx="336.35" cy="50.33" rx="5.44" ry="1.4" fill="#6a0000" opacity="0.39"/>
<ellipse cx="307.28" cy="142.27" rx="7.57" ry="1.4" fill="#6a0000" opacity="0.39"/>
<ellipse cx="412.28" cy="20.96" rx="5.96" ry="1.4" fill="#6a0000" opacity="0.65"/>
<ellipse cx="287.74" cy="61.79" rx="3.98" ry="1.4" fill="#6a0000" opacity="0.29"/>
<ellipse cx="347.8" cy="92.96" rx="6.77" ry="1.4" fill="#6a0000" opacity="0.12"/>
<ellipse cx="288.53" cy="39.43" rx="3.19" ry="1.4" fill="#6a0000" opacity="0.14"/>
<ellipse cx="436.63" cy="151.98" rx="2.97" ry="1.4" fill="#6a0000" opacity="0.29"/>
<ellipse cx="330.56" cy="68.47" rx="4.43" ry="1.4" fill="#6a0000" opacity="0.33"/>
<ellipse cx="374.14" cy="75.62" rx="3.55" ry="1.4" fill="#6a0000" opacity="0.23"/>
<ellipse cx="299.62" cy="105.74" rx="6.44" ry="1.4" fill="#6a0000" opacity="0.25"/>
<ellipse cx="292.56" cy="47.42" rx="4.55" ry="1.4" fill="#6a0000" opacity="0.32"/>
<ellipse cx="405.7" cy="78.63" rx="6.91" ry="1.4" fill="#6a0000" opacity="0.33"/>
<ellipse cx="349.19" cy="77.41" rx="5.23" ry="1.4" fill="#6a0000" opacity="0.35"/>
<ellipse cx="347.4" cy="127.18" rx="5.03" ry="1.4" fill="#6a0000" opacity="0.20"/>
<ellipse cx="365.97" cy="127.34" rx="2.89" ry="1.4" fill="#6a0000" opacity="0.26"/>
<ellipse cx="348.26" cy="155.88" rx="7.65" ry="1.4" fill="#6a0000" opacity="0.24"/>
<ellipse cx="424.25" cy="142.15" rx="3.94" ry="1.4" fill="#6a0000" opacity="0.27"/>
<ellipse cx="299.53" cy="145.61" rx="6.14" ry="1.4" fill="#6a0000" opacity="0.41"/>
<ellipse cx="407.29" cy="123.07" rx="6.54" ry="1.4" fill="#6a0000" opacity="0.31"/>
<ellipse cx="296.3" cy="110.73" rx="2.53" ry="1.4" fill="#6a0000" opacity="0.17"/>
<ellipse cx="404.36" cy="26.66" rx="3" ry="1.4" fill="#6a0000" opacity="0.24"/>
<ellipse cx="421.46" cy="47.52" rx="2.63" ry="1.4" fill="#6a0000" opacity="0.40"/>
<ellipse cx="299.23" cy="150.36" rx="6.2" ry="1.4" fill="#6a0000" opacity="0.40"/>
<ellipse cx="433.04" cy="109.38" rx="6.89" ry="1.4" fill="#6a0000" opacity="0.13"/>
<ellipse cx="403.25" cy="98.9" rx="6.43" ry="1.4" fill="#6a0000" opacity="0.16"/>
<ellipse cx="400.28" cy="164.38" rx="2.84" ry="1.4" fill="#6a0000" opacity="0.23"/>
<ellipse cx="370.5" cy="147.9" rx="3.83" ry="1.4" fill="#6a0000" opacity="0.18"/>
<ellipse cx="319.94" cy="115.09" rx="6.64" ry="1.4" fill="#6a0000" opacity="0.25"/>
<ellipse cx="338.86" cy="81.16" rx="4.43" ry="1.4" fill="#6a0000" opacity="0.26"/>
<ellipse cx="293.1" cy="97.2" rx="7.85" ry="1.4" fill="#6a0000" opacity="0.26"/>
<ellipse cx="400.03" cy="44.65" rx="6.3" ry="1.4" fill="#6a0000" opacity="0.37"/>
<ellipse cx="388.19" cy="99.79" rx="5.16" ry="1.4" fill="#6a0000" opacity="0.33"/>
<ellipse cx="424.18" cy="42.9" rx="3.03" ry="1.4" fill="#6a0000" opacity="0.37"/>
<ellipse cx="427.27" cy="99.82" rx="4.94" ry="1.4" fill="#6a0000" opacity="0.36"/>
<ellipse cx="309.66" cy="61.16" rx="3.6" ry="1.4" fill="#6a0000" opacity="0.31"/>
<ellipse cx="330.39" cy="55.74" rx="6.3" ry="1.4" fill="#6a0000" opacity="0.43"/>
<ellipse cx="327.33" cy="128.92" rx="4.77" ry="1.4" fill="#6a0000" opacity="0.40"/>
<ellipse cx="373.83" cy="61.13" rx="3.7" ry="1.4" fill="#6a0000" opacity="0.13"/>
<ellipse cx="356.9" cy="79.01" rx="3.45" ry="1.4" fill="#6a0000" opacity="0.24"/>
<ellipse cx="331.55" cy="139.57" rx="3.29" ry="1.4" fill="#6a0000" opacity="0.45"/>
<ellipse cx="356.91" cy="112.47" rx="5.07" ry="1.4" fill="#6a0000" opacity="0.40"/>
<ellipse cx="411.98" cy="105.99" rx="5.15" ry="1.4" fill="#6a0000" opacity="0.36"/>
<ellipse cx="417.62" cy="81.72" rx="6.53" ry="1.4" fill="#6a0000" opacity="0.44"/>
<ellipse cx="354.95" cy="55.32" rx="3.79" ry="1.4" fill="#6a0000" opacity="0.36"/>
<ellipse cx="388.43" cy="168.11" rx="7.2" ry="1.4" fill="#6a0000" opacity="0.20"/>
<ellipse cx="310.23" cy="59.81" rx="3.53" ry="1.4" fill="#6a0000" opacity="0.35"/>
<ellipse cx="417.93" cy="158.99" rx="3.9" ry="1.4" fill="#6a0000" opacity="0.41"/>
<ellipse cx="330.16" cy="85.28" rx="6.51" ry="1.4" fill="#6a0000" opacity="0.15"/>
<ellipse cx="294.62" cy="148.81" rx="4.1" ry="1.4" fill="#6a0000" opacity="0.24"/>
<ellipse cx="373.13" cy="124.3" rx="2.54" ry="1.4" fill="#6a0000" opacity="0.23"/>
<ellipse cx="349.93" cy="94.97" rx="3.66" ry="1.4" fill="#6a0000" opacity="0.31"/>
<ellipse cx="433.51" cy="80.28" rx="5.49" ry="1.4" fill="#6a0000" opacity="0.16"/>
<ellipse cx="323.94" cy="122.74" rx="3.12" ry="1.4" fill="#6a0000" opacity="0.41"/>
<ellipse cx="426.01" cy="34.79" rx="7.68" ry="1.4" fill="#6a0000" opacity="0.24"/>
<ellipse cx="404.06" cy="136.96" rx="4.13" ry="1.4" fill="#6a0000" opacity="0.34"/>
<ellipse cx="385.01" cy="144.5" rx="3.96" ry="1.4" fill="#6a0000" opacity="0.37"/>
<ellipse cx="434.47" cy="123.89" rx="5.45" ry="1.4" fill="#6a0000" opacity="0.16"/>
<ellipse cx="359.21" cy="74.28" rx="6.45" ry="1.4" fill="#6a0000" opacity="0.34"/>
<ellipse cx="370.89" cy="47.95" rx="6.05" ry="1.4" fill="#6a0000" opacity="0.33"/>
<ellipse cx="308.54" cy="157.47" rx="6.1" ry="1.4" fill="#6a0000" opacity="0.16"/>
<ellipse cx="429.73" cy="41.67" rx="4.32" ry="1.4" fill="#6a0000" opacity="0.36"/>
<ellipse cx="375.89" cy="105.65" rx="6.06" ry="1.4" fill="#6a0000" opacity="0.27"/>
<ellipse cx="330" cy="47.09" rx="2.88" ry="1.4" fill="#6a0000" opacity="0.36"/>
<ellipse cx="401.17" cy="103.82" rx="6.57" ry="1.4" fill="#6a0000" opacity="0.24"/>
<ellipse cx="322.5" cy="79.11" rx="7.3" ry="1.4" fill="#6a0000" opacity="0.13"/>
<ellipse cx="360.96" cy="58.04" rx="6.73" ry="1.4" fill="#6a0000" opacity="0.24"/>
<ellipse cx="333.29" cy="82.2" rx="5.48" ry="1.4" fill="#6a0000" opacity="0.37"/>
<ellipse cx="336.51" cy="150.81" rx="3.12" ry="1.4" fill="#6a0000" opacity="0.21"/>
<ellipse cx="295.74" cy="37.23" rx="6.78" ry="1.4" fill="#6a0000" opacity="0.36"/>
<ellipse cx="309.46" cy="49.06" rx="4.79" ry="1.4" fill="#6a0000" opacity="0.37"/>
<ellipse cx="411.04" cy="135.62" rx="5.76" ry="1.4" fill="#6a0000" opacity="0.17"/>
<ellipse cx="343.85" cy="49.76" rx="5.4" ry="1.4" fill="#6a0000" opacity="0.31"/>
<ellipse cx="312.23" cy="58.5" rx="6.8" ry="1.4" fill="#6a0000" opacity="0.13"/>
<ellipse cx="409.01" cy="157.67" rx="7.72" ry="1.4" fill="#6a0000" opacity="0.25"/>
</g>
<ellipse cx="334" cy="22" rx="11" ry="2.2" fill="#9a0000" opacity="0.8" filter="url(#b15)"/>
<ellipse cx="418" cy="22" rx="10" ry="2.2" fill="#9a0000" opacity="0.95" filter="url(#b15)"/>
<ellipse cx="412" cy="27" rx="7" ry="2.2" fill="#9a0000" opacity="0.6" filter="url(#b15)"/>
<ellipse cx="300" cy="22" rx="8" ry="2.2" fill="#9a0000" opacity="0.5" filter="url(#b15)"/>
<ellipse cx="395" cy="26" rx="7" ry="2.2" fill="#9a0000" opacity="0.55" filter="url(#b15)"/>
<ellipse cx="350" cy="28" rx="6" ry="2.2" fill="#9a0000" opacity="0.4" filter="url(#b15)"/>
<ellipse cx="324" cy="24" rx="6" ry="2.2" fill="#9a0000" opacity="0.5" filter="url(#b15)"/>
<g style="mix-blend-mode:screen"><g filter="url(#hot)">
<rect x="279.7" y="19.8" width="161.0" height="154.7" fill="#000"/>
<defs><linearGradient id="armg1" gradientUnits="userSpaceOnUse" x1="0" y1="110" x2="0" y2="176"><stop offset="0" stop-color="rgb(13,13,13)"/><stop offset="1" stop-color="rgb(33,33,33)"/></linearGradient><linearGradient id="armg2" gradientUnits="userSpaceOnUse" x1="0" y1="110" x2="0" y2="176"><stop offset="0" stop-color="rgb(26,26,26)"/><stop offset="0.5" stop-color="rgb(43,43,43)"/><stop offset="1" stop-color="rgb(66,66,66)"/></linearGradient></defs>
<path d="M326 178C326.18 177.5 325.98 179.52 327.1 175C328.22 170.48 330.83 158.02 332.7 150.9C334.57 143.78 336.28 137.88 338.3 132.3C340.32 126.72 342.77 121.02 344.8 117.4C346.83 113.78 349.55 111.73 350.5 110.6" fill="none" stroke="url(#armg1)" stroke-width="12" filter="url(#b2)"/>
<path d="M326 178C326.18 177.5 325.98 179.52 327.1 175C328.22 170.48 330.83 158.02 332.7 150.9C334.57 143.78 336.28 137.88 338.3 132.3C340.32 126.72 342.77 121.02 344.8 117.4C346.83 113.78 349.55 111.73 350.5 110.6" fill="none" stroke="url(#armg2)" stroke-width="6" filter="url(#b15)"/>
<path d="M391.2 178C391.08 177.5 391.4 179.52 390.5 175C389.6 170.48 387.52 158.02 385.8 150.9C384.08 143.78 382.07 137.88 380.2 132.3C378.33 126.72 375.83 121.02 374.6 117.4C373.37 113.78 373.1 111.73 372.8 110.6" fill="none" stroke="url(#armg1)" stroke-width="12" filter="url(#b2)"/>
<path d="M391.2 178C391.08 177.5 391.4 179.52 390.5 175C389.6 170.48 387.52 158.02 385.8 150.9C384.08 143.78 382.07 137.88 380.2 132.3C378.33 126.72 375.83 121.02 374.6 117.4C373.37 113.78 373.1 111.73 372.8 110.6" fill="none" stroke="url(#armg2)" stroke-width="6" filter="url(#b15)"/>
<ellipse cx="326.87" cy="176" rx="4.14" ry="1.4" fill="rgb(112,112,112)" filter="url(#b1)"/>
<ellipse cx="327.33" cy="172.63" rx="4.55" ry="1.4" fill="rgb(114,114,114)" filter="url(#b1)"/>
<ellipse cx="328.66" cy="169.85" rx="3" ry="1.4" fill="rgb(108,108,108)" filter="url(#b1)"/>
<ellipse cx="329.01" cy="166.72" rx="3.94" ry="1.4" fill="rgb(107,107,107)" filter="url(#b1)"/>
<ellipse cx="329.71" cy="163.97" rx="3.07" ry="1.4" fill="rgb(84,84,84)" filter="url(#b1)"/>
<ellipse cx="330.22" cy="161.17" rx="4.02" ry="1.4" fill="rgb(100,100,100)" filter="url(#b1)"/>
<ellipse cx="330.51" cy="157.82" rx="4.43" ry="1.4" fill="rgb(106,106,106)" filter="url(#b1)"/>
<ellipse cx="331.55" cy="154.87" rx="3.42" ry="1.4" fill="rgb(69,69,69)" filter="url(#b1)"/>
<ellipse cx="333" cy="152.58" rx="3.58" ry="1.4" fill="rgb(86,86,86)" filter="url(#b1)"/>
<ellipse cx="332.59" cy="149.33" rx="4.54" ry="1.4" fill="rgb(89,89,89)" filter="url(#b1)"/>
<ellipse cx="334.4" cy="146.41" rx="4.33" ry="1.4" fill="rgb(94,94,94)" filter="url(#b1)"/>
<ellipse cx="335.53" cy="143.8" rx="4.55" ry="1.4" fill="rgb(87,87,87)" filter="url(#b1)"/>
<ellipse cx="335.63" cy="141.07" rx="3.2" ry="1.4" fill="rgb(82,82,82)" filter="url(#b1)"/>
<ellipse cx="335.86" cy="138.82" rx="3.29" ry="1.4" fill="rgb(54,54,54)" filter="url(#b1)"/>
<ellipse cx="337.24" cy="136.03" rx="3.76" ry="1.4" fill="rgb(74,74,74)" filter="url(#b1)"/>
<ellipse cx="338.02" cy="133.05" rx="4.36" ry="1.4" fill="rgb(56,56,56)" filter="url(#b1)"/>
<ellipse cx="339.78" cy="130.37" rx="4.3" ry="1.4" fill="rgb(49,49,49)" filter="url(#b1)"/>
<ellipse cx="340.34" cy="127.73" rx="4.07" ry="1.4" fill="rgb(53,53,53)" filter="url(#b1)"/>
<ellipse cx="340.91" cy="125.26" rx="4.41" ry="1.4" fill="rgb(38,38,38)" filter="url(#b1)"/>
<ellipse cx="341.92" cy="122.88" rx="3.38" ry="1.4" fill="rgb(51,51,51)" filter="url(#b1)"/>
<ellipse cx="342.93" cy="120.48" rx="3.05" ry="1.4" fill="rgb(47,47,47)" filter="url(#b1)"/>
<ellipse cx="344.46" cy="118.15" rx="3.11" ry="1.4" fill="rgb(37,37,37)" filter="url(#b1)"/>
<ellipse cx="345.89" cy="115.92" rx="4.27" ry="1.4" fill="rgb(43,43,43)" filter="url(#b1)"/>
<ellipse cx="347.77" cy="113.66" rx="3.05" ry="1.4" fill="rgb(40,40,40)" filter="url(#b1)"/>
<ellipse cx="390.08" cy="176" rx="3.85" ry="1.4" fill="rgb(97,97,97)" filter="url(#b1)"/>
<ellipse cx="389.98" cy="173.6" rx="3.22" ry="1.4" fill="rgb(113,113,113)" filter="url(#b1)"/>
<ellipse cx="389.43" cy="171.34" rx="4.42" ry="1.4" fill="rgb(115,115,115)" filter="url(#b1)"/>
<ellipse cx="388.93" cy="168.58" rx="3.45" ry="1.4" fill="rgb(121,121,121)" filter="url(#b1)"/>
<ellipse cx="388.96" cy="166.06" rx="3.62" ry="1.4" fill="rgb(113,113,113)" filter="url(#b1)"/>
<ellipse cx="389.06" cy="163.75" rx="4.07" ry="1.4" fill="rgb(104,104,104)" filter="url(#b1)"/>
<ellipse cx="387.22" cy="161.55" rx="3.31" ry="1.4" fill="rgb(74,74,74)" filter="url(#b1)"/>
<ellipse cx="387.69" cy="159.3" rx="4.62" ry="1.4" fill="rgb(73,73,73)" filter="url(#b1)"/>
<ellipse cx="386.93" cy="156.86" rx="4.45" ry="1.4" fill="rgb(109,109,109)" filter="url(#b1)"/>
<ellipse cx="385.57" cy="153.56" rx="3.55" ry="1.4" fill="rgb(103,103,103)" filter="url(#b1)"/>
<ellipse cx="385.06" cy="150.63" rx="3.53" ry="1.4" fill="rgb(100,100,100)" filter="url(#b1)"/>
<ellipse cx="384.57" cy="147.41" rx="3.6" ry="1.4" fill="rgb(64,64,64)" filter="url(#b1)"/>
<ellipse cx="383.32" cy="144.4" rx="4.33" ry="1.4" fill="rgb(92,92,92)" filter="url(#b1)"/>
<ellipse cx="383" cy="141.32" rx="4.66" ry="1.4" fill="rgb(85,85,85)" filter="url(#b1)"/>
<ellipse cx="381.69" cy="138.68" rx="4.4" ry="1.4" fill="rgb(66,66,66)" filter="url(#b1)"/>
<ellipse cx="380.76" cy="135.9" rx="4.3" ry="1.4" fill="rgb(58,58,58)" filter="url(#b1)"/>
<ellipse cx="380.22" cy="132.98" rx="3.88" ry="1.4" fill="rgb(71,71,71)" filter="url(#b1)"/>
<ellipse cx="378.79" cy="130.59" rx="3.84" ry="1.4" fill="rgb(68,68,68)" filter="url(#b1)"/>
<ellipse cx="377.74" cy="127.48" rx="3.43" ry="1.4" fill="rgb(64,64,64)" filter="url(#b1)"/>
<ellipse cx="377.79" cy="124.27" rx="4.57" ry="1.4" fill="rgb(59,59,59)" filter="url(#b1)"/>
<ellipse cx="376.52" cy="121.53" rx="3.6" ry="1.4" fill="rgb(64,64,64)" filter="url(#b1)"/>
<ellipse cx="375" cy="118.88" rx="4.72" ry="1.4" fill="rgb(34,34,34)" filter="url(#b1)"/>
<ellipse cx="373.75" cy="116.56" rx="3.15" ry="1.4" fill="rgb(48,48,48)" filter="url(#b1)"/>
<ellipse cx="372.87" cy="113.58" rx="3.27" ry="1.4" fill="rgb(34,34,34)" filter="url(#b1)"/>
<ellipse cx="357" cy="110.2" rx="22" ry="1.3" fill="rgb(43,43,43)" filter="url(#b05)"/>
<ellipse cx="354.1" cy="109.9" rx="4.5" ry="2.2" fill="rgb(140,140,140)" filter="url(#b1)"/>
<ellipse cx="354.1" cy="109.9" rx="2.2" ry="1.1" fill="rgb(178,178,178)" filter="url(#b05)"/>
<ellipse cx="374" cy="109.6" rx="5" ry="1.8" fill="rgb(76,76,76)" filter="url(#b1)"/>
<ellipse cx="339.4" cy="109.5" rx="2.2" ry="0.9" fill="rgb(204,204,204)" filter="url(#b05)"/>
<ellipse cx="362.3" cy="54.4" rx="3.6" ry="0.9" fill="rgb(242,242,242)" filter="url(#b05)"/>
<ellipse cx="281" cy="65.3" rx="2.5" ry="0.9" fill="rgb(128,128,128)" filter="url(#b05)"/>
<ellipse cx="351.7" cy="85.5" rx="3" ry="1" fill="rgb(76,76,76)" filter="url(#b05)"/>
<ellipse cx="283.6" cy="121" rx="2.5" ry="0.9" fill="rgb(71,71,71)" filter="url(#b05)"/>
<ellipse cx="285" cy="145" rx="2.5" ry="0.9" fill="rgb(56,56,56)" filter="url(#b05)"/>
<ellipse cx="352" cy="102" rx="3" ry="0.9" fill="rgb(51,51,51)" filter="url(#b05)"/>
</g></g></g>
<line x1="279.7" y1="174.5" x2="276.1" y2="174.5" stroke="#000" stroke-width="1.1" />
<line x1="440.7" y1="174.5" x2="444.3" y2="174.5" stroke="#000" stroke-width="1.1" />
<line x1="279.7" y1="170.08" x2="277.1" y2="170.08" stroke="#000" stroke-width="1.1" />
<line x1="440.7" y1="170.08" x2="443.3" y2="170.08" stroke="#000" stroke-width="1.1" />
<line x1="279.7" y1="165.66" x2="277.1" y2="165.66" stroke="#000" stroke-width="1.1" />
<line x1="440.7" y1="165.66" x2="443.3" y2="165.66" stroke="#000" stroke-width="1.1" />
<line x1="279.7" y1="161.24" x2="277.1" y2="161.24" stroke="#000" stroke-width="1.1" />
<line x1="440.7" y1="161.24" x2="443.3" y2="161.24" stroke="#000" stroke-width="1.1" />
<line x1="279.7" y1="156.82" x2="277.1" y2="156.82" stroke="#000" stroke-width="1.1" />
<line x1="440.7" y1="156.82" x2="443.3" y2="156.82" stroke="#000" stroke-width="1.1" />
<line x1="279.7" y1="152.4" x2="276.1" y2="152.4" stroke="#000" stroke-width="1.1" />
<line x1="440.7" y1="152.4" x2="444.3" y2="152.4" stroke="#000" stroke-width="1.1" />
<line x1="279.7" y1="147.98" x2="277.1" y2="147.98" stroke="#000" stroke-width="1.1" />
<line x1="440.7" y1="147.98" x2="443.3" y2="147.98" stroke="#000" stroke-width="1.1" />
<line x1="279.7" y1="143.56" x2="277.1" y2="143.56" stroke="#000" stroke-width="1.1" />
<line x1="440.7" y1="143.56" x2="443.3" y2="143.56" stroke="#000" stroke-width="1.1" />
<line x1="279.7" y1="139.14" x2="277.1" y2="139.14" stroke="#000" stroke-width="1.1" />
<line x1="440.7" y1="139.14" x2="443.3" y2="139.14" stroke="#000" stroke-width="1.1" />
<line x1="279.7" y1="134.72" x2="277.1" y2="134.72" stroke="#000" stroke-width="1.1" />
<line x1="440.7" y1="134.72" x2="443.3" y2="134.72" stroke="#000" stroke-width="1.1" />
<line x1="279.7" y1="130.3" x2="276.1" y2="130.3" stroke="#000" stroke-width="1.1" />
<line x1="440.7" y1="130.3" x2="444.3" y2="130.3" stroke="#000" stroke-width="1.1" />
<line x1="279.7" y1="125.88" x2="277.1" y2="125.88" stroke="#000" stroke-width="1.1" />
<line x1="440.7" y1="125.88" x2="443.3" y2="125.88" stroke="#000" stroke-width="1.1" />
<line x1="279.7" y1="121.46" x2="277.1" y2="121.46" stroke="#000" stroke-width="1.1" />
<line x1="440.7" y1="121.46" x2="443.3" y2="121.46" stroke="#000" stroke-width="1.1" />
<line x1="279.7" y1="117.04" x2="277.1" y2="117.04" stroke="#000" stroke-width="1.1" />
<line x1="440.7" y1="117.04" x2="443.3" y2="117.04" stroke="#000" stroke-width="1.1" />
<line x1="279.7" y1="112.62" x2="277.1" y2="112.62" stroke="#000" stroke-width="1.1" />
<line x1="440.7" y1="112.62" x2="443.3" y2="112.62" stroke="#000" stroke-width="1.1" />
<line x1="279.7" y1="108.2" x2="276.1" y2="108.2" stroke="#000" stroke-width="1.1" />
<line x1="440.7" y1="108.2" x2="444.3" y2="108.2" stroke="#000" stroke-width="1.1" />
<line x1="279.7" y1="103.78" x2="277.1" y2="103.78" stroke="#000" stroke-width="1.1" />
<line x1="440.7" y1="103.78" x2="443.3" y2="103.78" stroke="#000" stroke-width="1.1" />
<line x1="279.7" y1="99.36" x2="277.1" y2="99.36" stroke="#000" stroke-width="1.1" />
<line x1="440.7" y1="99.36" x2="443.3" y2="99.36" stroke="#000" stroke-width="1.1" />
<line x1="279.7" y1="94.94" x2="277.1" y2="94.94" stroke="#000" stroke-width="1.1" />
<line x1="440.7" y1="94.94" x2="443.3" y2="94.94" stroke="#000" stroke-width="1.1" />
<line x1="279.7" y1="90.52" x2="277.1" y2="90.52" stroke="#000" stroke-width="1.1" />
<line x1="440.7" y1="90.52" x2="443.3" y2="90.52" stroke="#000" stroke-width="1.1" />
<line x1="279.7" y1="86.1" x2="276.1" y2="86.1" stroke="#000" stroke-width="1.1" />
<line x1="440.7" y1="86.1" x2="444.3" y2="86.1" stroke="#000" stroke-width="1.1" />
<line x1="279.7" y1="81.68" x2="277.1" y2="81.68" stroke="#000" stroke-width="1.1" />
<line x1="440.7" y1="81.68" x2="443.3" y2="81.68" stroke="#000" stroke-width="1.1" />
<line x1="279.7" y1="77.26" x2="277.1" y2="77.26" stroke="#000" stroke-width="1.1" />
<line x1="440.7" y1="77.26" x2="443.3" y2="77.26" stroke="#000" stroke-width="1.1" />
<line x1="279.7" y1="72.84" x2="277.1" y2="72.84" stroke="#000" stroke-width="1.1" />
<line x1="440.7" y1="72.84" x2="443.3" y2="72.84" stroke="#000" stroke-width="1.1" />
<line x1="279.7" y1="68.42" x2="277.1" y2="68.42" stroke="#000" stroke-width="1.1" />
<line x1="440.7" y1="68.42" x2="443.3" y2="68.42" stroke="#000" stroke-width="1.1" />
<line x1="279.7" y1="64" x2="276.1" y2="64" stroke="#000" stroke-width="1.1" />
<line x1="440.7" y1="64" x2="444.3" y2="64" stroke="#000" stroke-width="1.1" />
<line x1="279.7" y1="59.58" x2="277.1" y2="59.58" stroke="#000" stroke-width="1.1" />
<line x1="440.7" y1="59.58" x2="443.3" y2="59.58" stroke="#000" stroke-width="1.1" />
<line x1="279.7" y1="55.16" x2="277.1" y2="55.16" stroke="#000" stroke-width="1.1" />
<line x1="440.7" y1="55.16" x2="443.3" y2="55.16" stroke="#000" stroke-width="1.1" />
<line x1="279.7" y1="50.74" x2="277.1" y2="50.74" stroke="#000" stroke-width="1.1" />
<line x1="440.7" y1="50.74" x2="443.3" y2="50.74" stroke="#000" stroke-width="1.1" />
<line x1="279.7" y1="46.32" x2="277.1" y2="46.32" stroke="#000" stroke-width="1.1" />
<line x1="440.7" y1="46.32" x2="443.3" y2="46.32" stroke="#000" stroke-width="1.1" />
<line x1="279.7" y1="41.9" x2="276.1" y2="41.9" stroke="#000" stroke-width="1.1" />
<line x1="440.7" y1="41.9" x2="444.3" y2="41.9" stroke="#000" stroke-width="1.1" />
<line x1="279.7" y1="37.48" x2="277.1" y2="37.48" stroke="#000" stroke-width="1.1" />
<line x1="440.7" y1="37.48" x2="443.3" y2="37.48" stroke="#000" stroke-width="1.1" />
<line x1="279.7" y1="33.06" x2="277.1" y2="33.06" stroke="#000" stroke-width="1.1" />
<line x1="440.7" y1="33.06" x2="443.3" y2="33.06" stroke="#000" stroke-width="1.1" />
<line x1="279.7" y1="28.64" x2="277.1" y2="28.64" stroke="#000" stroke-width="1.1" />
<line x1="440.7" y1="28.64" x2="443.3" y2="28.64" stroke="#000" stroke-width="1.1" />
<line x1="279.7" y1="24.22" x2="277.1" y2="24.22" stroke="#000" stroke-width="1.1" />
<line x1="440.7" y1="24.22" x2="443.3" y2="24.22" stroke="#000" stroke-width="1.1" />
<line x1="279.7" y1="19.8" x2="276.1" y2="19.8" stroke="#000" stroke-width="1.1" />
<line x1="440.7" y1="19.8" x2="444.3" y2="19.8" stroke="#000" stroke-width="1.1" />
<line x1="281.66" y1="19.8" x2="281.66" y2="17.2" stroke="#000" stroke-width="1.1" />
<line x1="281.66" y1="174.5" x2="281.66" y2="177.1" stroke="#000" stroke-width="1.1" />
<line x1="288.9" y1="19.8" x2="288.9" y2="16.2" stroke="#000" stroke-width="1.1" />
<line x1="288.9" y1="174.5" x2="288.9" y2="178.1" stroke="#000" stroke-width="1.1" />
<line x1="296.14" y1="19.8" x2="296.14" y2="17.2" stroke="#000" stroke-width="1.1" />
<line x1="296.14" y1="174.5" x2="296.14" y2="177.1" stroke="#000" stroke-width="1.1" />
<line x1="303.38" y1="19.8" x2="303.38" y2="17.2" stroke="#000" stroke-width="1.1" />
<line x1="303.38" y1="174.5" x2="303.38" y2="177.1" stroke="#000" stroke-width="1.1" />
<line x1="310.62" y1="19.8" x2="310.62" y2="17.2" stroke="#000" stroke-width="1.1" />
<line x1="310.62" y1="174.5" x2="310.62" y2="177.1" stroke="#000" stroke-width="1.1" />
<line x1="317.86" y1="19.8" x2="317.86" y2="17.2" stroke="#000" stroke-width="1.1" />
<line x1="317.86" y1="174.5" x2="317.86" y2="177.1" stroke="#000" stroke-width="1.1" />
<line x1="325.1" y1="19.8" x2="325.1" y2="16.2" stroke="#000" stroke-width="1.1" />
<line x1="325.1" y1="174.5" x2="325.1" y2="178.1" stroke="#000" stroke-width="1.1" />
<line x1="332.34" y1="19.8" x2="332.34" y2="17.2" stroke="#000" stroke-width="1.1" />
<line x1="332.34" y1="174.5" x2="332.34" y2="177.1" stroke="#000" stroke-width="1.1" />
<line x1="339.58" y1="19.8" x2="339.58" y2="17.2" stroke="#000" stroke-width="1.1" />
<line x1="339.58" y1="174.5" x2="339.58" y2="177.1" stroke="#000" stroke-width="1.1" />
<line x1="346.82" y1="19.8" x2="346.82" y2="17.2" stroke="#000" stroke-width="1.1" />
<line x1="346.82" y1="174.5" x2="346.82" y2="177.1" stroke="#000" stroke-width="1.1" />
<line x1="354.06" y1="19.8" x2="354.06" y2="17.2" stroke="#000" stroke-width="1.1" />
<line x1="354.06" y1="174.5" x2="354.06" y2="177.1" stroke="#000" stroke-width="1.1" />
<line x1="361.3" y1="19.8" x2="361.3" y2="16.2" stroke="#000" stroke-width="1.1" />
<line x1="361.3" y1="174.5" x2="361.3" y2="178.1" stroke="#000" stroke-width="1.1" />
<line x1="368.54" y1="19.8" x2="368.54" y2="17.2" stroke="#000" stroke-width="1.1" />
<line x1="368.54" y1="174.5" x2="368.54" y2="177.1" stroke="#000" stroke-width="1.1" />
<line x1="375.78" y1="19.8" x2="375.78" y2="17.2" stroke="#000" stroke-width="1.1" />
<line x1="375.78" y1="174.5" x2="375.78" y2="177.1" stroke="#000" stroke-width="1.1" />
<line x1="383.02" y1="19.8" x2="383.02" y2="17.2" stroke="#000" stroke-width="1.1" />
<line x1="383.02" y1="174.5" x2="383.02" y2="177.1" stroke="#000" stroke-width="1.1" />
<line x1="390.26" y1="19.8" x2="390.26" y2="17.2" stroke="#000" stroke-width="1.1" />
<line x1="390.26" y1="174.5" x2="390.26" y2="177.1" stroke="#000" stroke-width="1.1" />
<line x1="397.5" y1="19.8" x2="397.5" y2="16.2" stroke="#000" stroke-width="1.1" />
<line x1="397.5" y1="174.5" x2="397.5" y2="178.1" stroke="#000" stroke-width="1.1" />
<line x1="404.74" y1="19.8" x2="404.74" y2="17.2" stroke="#000" stroke-width="1.1" />
<line x1="404.74" y1="174.5" x2="404.74" y2="177.1" stroke="#000" stroke-width="1.1" />
<line x1="411.98" y1="19.8" x2="411.98" y2="17.2" stroke="#000" stroke-width="1.1" />
<line x1="411.98" y1="174.5" x2="411.98" y2="177.1" stroke="#000" stroke-width="1.1" />
<line x1="419.22" y1="19.8" x2="419.22" y2="17.2" stroke="#000" stroke-width="1.1" />
<line x1="419.22" y1="174.5" x2="419.22" y2="177.1" stroke="#000" stroke-width="1.1" />
<line x1="426.46" y1="19.8" x2="426.46" y2="17.2" stroke="#000" stroke-width="1.1" />
<line x1="426.46" y1="174.5" x2="426.46" y2="177.1" stroke="#000" stroke-width="1.1" />
<line x1="433.7" y1="19.8" x2="433.7" y2="16.2" stroke="#000" stroke-width="1.1" />
<line x1="433.7" y1="174.5" x2="433.7" y2="178.1" stroke="#000" stroke-width="1.1" />
<text x="275.8" y="181.5" font-size="13.7" text-anchor="end" fill="#000" font-weight="normal" font-style="normal" >1.47</text>
<text x="275.8" y="159.4" font-size="13.7" text-anchor="end" fill="#000" font-weight="normal" font-style="normal" >1.48</text>
<text x="275.8" y="137.3" font-size="13.7" text-anchor="end" fill="#000" font-weight="normal" font-style="normal" >1.49</text>
<text x="275.8" y="115.2" font-size="13.7" text-anchor="end" fill="#000" font-weight="normal" font-style="normal" >1.50</text>
<text x="275.8" y="93.1" font-size="13.7" text-anchor="end" fill="#000" font-weight="normal" font-style="normal" >1.51</text>
<text x="275.8" y="71" font-size="13.7" text-anchor="end" fill="#000" font-weight="normal" font-style="normal" >1.52</text>
<text x="275.8" y="48.9" font-size="13.7" text-anchor="end" fill="#000" font-weight="normal" font-style="normal" >1.53</text>
<text x="275.8" y="26.8" font-size="13.7" text-anchor="end" fill="#000" font-weight="normal" font-style="normal" >1.54</text>
<text x="287.3" y="195.5" font-size="13.7" text-anchor="middle" fill="#000" font-weight="normal" font-style="normal" >-20</text>
<text x="323.5" y="195.5" font-size="13.7" text-anchor="middle" fill="#000" font-weight="normal" font-style="normal" >-10</text>
<text x="362" y="195.5" font-size="13.7" text-anchor="middle" fill="#000" font-weight="normal" font-style="normal" >0</text>
<text x="398.2" y="195.5" font-size="13.7" text-anchor="middle" fill="#000" font-weight="normal" font-style="normal" >10</text>
<text x="434.4" y="195.5" font-size="13.7" text-anchor="middle" fill="#000" font-weight="normal" font-style="normal" >20</text>
<text x="327.4" y="212.5" font-size="13.6">k<tspan font-size="9" dy="3.2">x</tspan><tspan dy="-3.2"> (degree)</tspan></text>
<text transform="translate(243.8,96.5) rotate(-90)" font-size="13.7" text-anchor="middle">Photon energy (eV)</text>
<text x="234.4" y="15.9" font-size="16.6" text-anchor="start" fill="#000" font-weight="bold" font-style="normal" >b</text>
<text x="285.6" y="38.2" font-size="13.8" fill="#fff">0.76 P<tspan font-size="9" dy="3.5" dx="0.3">th</tspan></text>
<clipPath id="cc"><rect x="279.7" y="233.0" width="161.0" height="155.2"/></clipPath>
<defs><radialGradient id="rg"><stop offset="0" stop-color="#a00000" stop-opacity="1"/><stop offset="0.45" stop-color="#780000" stop-opacity="0.75"/><stop offset="1" stop-color="#400000" stop-opacity="0"/></radialGradient><radialGradient id="rg2"><stop offset="0" stop-color="#3a0000" stop-opacity="1"/><stop offset="1" stop-color="#3a0000" stop-opacity="0"/></radialGradient><radialGradient id="rgk"><stop offset="0" stop-color="#000" stop-opacity="0.6"/><stop offset="1" stop-color="#000" stop-opacity="0"/></radialGradient></defs>
<g clip-path="url(#cc)">
<rect x="279.7" y="233.0" width="161.0" height="155.2" fill="#1d0000"/>
<ellipse cx="361" cy="372" rx="24" ry="50" fill="url(#rgk)" opacity="0.8"/>
<ellipse cx="425" cy="290" rx="16" ry="50" fill="url(#rg2)" opacity="0.25"/>
<ellipse cx="366" cy="300" rx="10" ry="85" fill="url(#rgk)" opacity="0.7"/>
<ellipse cx="281" cy="310" rx="8" ry="90" fill="url(#rgk)"/>
<ellipse cx="330" cy="231" rx="26" ry="11" fill="url(#rg)"/>
<ellipse cx="386" cy="231" rx="13" ry="11" fill="url(#rg)"/>
<ellipse cx="420" cy="231" rx="16" ry="11" fill="url(#rg)"/>
<ellipse cx="0" cy="0" rx="22" ry="11" fill="url(#rg)" opacity="0.62" transform="translate(338,243) rotate(40)"/>
<ellipse cx="0" cy="0" rx="18" ry="10" fill="url(#rg)" opacity="0.6" transform="translate(390,245) rotate(55)"/>
<ellipse cx="0" cy="0" rx="19" ry="11" fill="url(#rg)" opacity="0.6" transform="translate(412,245) rotate(-48)"/>
<ellipse cx="306" cy="232" rx="16" ry="7" fill="url(#rg)" opacity="0.45"/>
<g style="mix-blend-mode:screen"><g filter="url(#hot)">
<rect x="279.7" y="233.0" width="161.0" height="155.2" fill="#000"/>
<ellipse cx="360" cy="322" rx="32" ry="2.2" fill="rgb(38,38,38)" filter="url(#b15)"/>
<ellipse cx="362" cy="322" rx="18" ry="4" fill="rgb(26,26,26)" filter="url(#b2)"/>
<defs><linearGradient id="cg1" gradientUnits="userSpaceOnUse" x1="0" y1="325" x2="0" y2="389"><stop offset="0" stop-color="rgb(23,23,23)"/><stop offset="1" stop-color="rgb(43,43,43)"/></linearGradient><linearGradient id="cg2" gradientUnits="userSpaceOnUse" x1="0" y1="325" x2="0" y2="389"><stop offset="0" stop-color="rgb(61,61,61)"/><stop offset="1" stop-color="rgb(92,92,92)"/></linearGradient><linearGradient id="cg3" gradientUnits="userSpaceOnUse" x1="0" y1="325" x2="0" y2="389"><stop offset="0" stop-color="rgb(92,92,92)"/><stop offset="1" stop-color="rgb(143,143,143)"/></linearGradient><linearGradient id="cg4" gradientUnits="userSpaceOnUse" x1="0" y1="325" x2="0" y2="389"><stop offset="0" stop-color="rgb(87,87,87)"/><stop offset="1" stop-color="rgb(128,128,128)"/></linearGradient></defs>
<path d="M323 394C323.28 393.17 323.05 394.87 324.7 389C326.35 383.13 330.25 366.58 332.9 358.8C335.55 351.02 338.25 346.93 340.6 342.3C342.95 337.67 345.18 333.97 347 331C348.82 328.03 350.75 325.58 351.5 324.5" fill="none" stroke="url(#cg1)" stroke-width="15" filter="url(#b3)"/>
<path d="M323 394C323.28 393.17 323.05 394.87 324.7 389C326.35 383.13 330.25 366.58 332.9 358.8C335.55 351.02 338.25 346.93 340.6 342.3C342.95 337.67 345.18 333.97 347 331C348.82 328.03 350.75 325.58 351.5 324.5" fill="none" stroke="url(#cg2)" stroke-width="8" filter="url(#b2)"/>
<path d="M323 394C323.28 393.17 323.05 394.87 324.7 389C326.35 383.13 330.25 366.58 332.9 358.8C335.55 351.02 338.25 346.93 340.6 342.3C342.95 337.67 345.18 333.97 347 331C348.82 328.03 350.75 325.58 351.5 324.5" fill="none" stroke="url(#cg3)" stroke-width="3.5" filter="url(#b15)"/>
<path d="M395.5 394C395.25 393.17 395.62 394.87 394 389C392.38 383.13 388.35 366.58 385.8 358.8C383.25 351.02 380.5 346.77 378.7 342.3C376.9 337.83 376.03 334.97 375 332C373.97 329.03 372.92 325.75 372.5 324.5" fill="none" stroke="url(#cg1)" stroke-width="15" filter="url(#b3)"/>
<path d="M395.5 394C395.25 393.17 395.62 394.87 394 389C392.38 383.13 388.35 366.58 385.8 358.8C383.25 351.02 380.5 346.77 378.7 342.3C376.9 337.83 376.03 334.97 375 332C373.97 329.03 372.92 325.75 372.5 324.5" fill="none" stroke="url(#cg2)" stroke-width="8" filter="url(#b2)"/>
<path d="M395.5 394C395.25 393.17 395.62 394.87 394 389C392.38 383.13 388.35 366.58 385.8 358.8C383.25 351.02 380.5 346.77 378.7 342.3C376.9 337.83 376.03 334.97 375 332C373.97 329.03 372.92 325.75 372.5 324.5" fill="none" stroke="url(#cg4)" stroke-width="3.5" filter="url(#b15)"/>
<ellipse cx="353.3" cy="321.9" rx="7" ry="3.2" fill="rgb(140,140,140)" filter="url(#b15)"/>
<ellipse cx="353.3" cy="321.9" rx="3.5" ry="1.6" fill="rgb(242,242,242)" filter="url(#b1)"/>
<ellipse cx="371.7" cy="321.9" rx="6.5" ry="2.8" fill="rgb(122,122,122)" filter="url(#b15)"/>
<ellipse cx="371.7" cy="321.9" rx="3" ry="1.3" fill="rgb(168,168,168)" filter="url(#b1)"/>
</g>
</g></g>
<line x1="279.7" y1="388.2" x2="276.1" y2="388.2" stroke="#000" stroke-width="1.1" />
<line x1="440.7" y1="388.2" x2="444.3" y2="388.2" stroke="#000" stroke-width="1.1" />
<line x1="279.7" y1="383.77" x2="277.1" y2="383.77" stroke="#000" stroke-width="1.1" />
<line x1="440.7" y1="383.77" x2="443.3" y2="383.77" stroke="#000" stroke-width="1.1" />
<line x1="279.7" y1="379.33" x2="277.1" y2="379.33" stroke="#000" stroke-width="1.1" />
<line x1="440.7" y1="379.33" x2="443.3" y2="379.33" stroke="#000" stroke-width="1.1" />
<line x1="279.7" y1="374.9" x2="277.1" y2="374.9" stroke="#000" stroke-width="1.1" />
<line x1="440.7" y1="374.9" x2="443.3" y2="374.9" stroke="#000" stroke-width="1.1" />
<line x1="279.7" y1="370.46" x2="277.1" y2="370.46" stroke="#000" stroke-width="1.1" />
<line x1="440.7" y1="370.46" x2="443.3" y2="370.46" stroke="#000" stroke-width="1.1" />
<line x1="279.7" y1="366.03" x2="276.1" y2="366.03" stroke="#000" stroke-width="1.1" />
<line x1="440.7" y1="366.03" x2="444.3" y2="366.03" stroke="#000" stroke-width="1.1" />
<line x1="279.7" y1="361.59" x2="277.1" y2="361.59" stroke="#000" stroke-width="1.1" />
<line x1="440.7" y1="361.59" x2="443.3" y2="361.59" stroke="#000" stroke-width="1.1" />
<line x1="279.7" y1="357.16" x2="277.1" y2="357.16" stroke="#000" stroke-width="1.1" />
<line x1="440.7" y1="357.16" x2="443.3" y2="357.16" stroke="#000" stroke-width="1.1" />
<line x1="279.7" y1="352.73" x2="277.1" y2="352.73" stroke="#000" stroke-width="1.1" />
<line x1="440.7" y1="352.73" x2="443.3" y2="352.73" stroke="#000" stroke-width="1.1" />
<line x1="279.7" y1="348.29" x2="277.1" y2="348.29" stroke="#000" stroke-width="1.1" />
<line x1="440.7" y1="348.29" x2="443.3" y2="348.29" stroke="#000" stroke-width="1.1" />
<line x1="279.7" y1="343.86" x2="276.1" y2="343.86" stroke="#000" stroke-width="1.1" />
<line x1="440.7" y1="343.86" x2="444.3" y2="343.86" stroke="#000" stroke-width="1.1" />
<line x1="279.7" y1="339.42" x2="277.1" y2="339.42" stroke="#000" stroke-width="1.1" />
<line x1="440.7" y1="339.42" x2="443.3" y2="339.42" stroke="#000" stroke-width="1.1" />
<line x1="279.7" y1="334.99" x2="277.1" y2="334.99" stroke="#000" stroke-width="1.1" />
<line x1="440.7" y1="334.99" x2="443.3" y2="334.99" stroke="#000" stroke-width="1.1" />
<line x1="279.7" y1="330.55" x2="277.1" y2="330.55" stroke="#000" stroke-width="1.1" />
<line x1="440.7" y1="330.55" x2="443.3" y2="330.55" stroke="#000" stroke-width="1.1" />
<line x1="279.7" y1="326.12" x2="277.1" y2="326.12" stroke="#000" stroke-width="1.1" />
<line x1="440.7" y1="326.12" x2="443.3" y2="326.12" stroke="#000" stroke-width="1.1" />
<line x1="279.7" y1="321.69" x2="276.1" y2="321.69" stroke="#000" stroke-width="1.1" />
<line x1="440.7" y1="321.69" x2="444.3" y2="321.69" stroke="#000" stroke-width="1.1" />
<line x1="279.7" y1="317.25" x2="277.1" y2="317.25" stroke="#000" stroke-width="1.1" />
<line x1="440.7" y1="317.25" x2="443.3" y2="317.25" stroke="#000" stroke-width="1.1" />
<line x1="279.7" y1="312.82" x2="277.1" y2="312.82" stroke="#000" stroke-width="1.1" />
<line x1="440.7" y1="312.82" x2="443.3" y2="312.82" stroke="#000" stroke-width="1.1" />
<line x1="279.7" y1="308.38" x2="277.1" y2="308.38" stroke="#000" stroke-width="1.1" />
<line x1="440.7" y1="308.38" x2="443.3" y2="308.38" stroke="#000" stroke-width="1.1" />
<line x1="279.7" y1="303.95" x2="277.1" y2="303.95" stroke="#000" stroke-width="1.1" />
<line x1="440.7" y1="303.95" x2="443.3" y2="303.95" stroke="#000" stroke-width="1.1" />
<line x1="279.7" y1="299.51" x2="276.1" y2="299.51" stroke="#000" stroke-width="1.1" />
<line x1="440.7" y1="299.51" x2="444.3" y2="299.51" stroke="#000" stroke-width="1.1" />
<line x1="279.7" y1="295.08" x2="277.1" y2="295.08" stroke="#000" stroke-width="1.1" />
<line x1="440.7" y1="295.08" x2="443.3" y2="295.08" stroke="#000" stroke-width="1.1" />
<line x1="279.7" y1="290.65" x2="277.1" y2="290.65" stroke="#000" stroke-width="1.1" />
<line x1="440.7" y1="290.65" x2="443.3" y2="290.65" stroke="#000" stroke-width="1.1" />
<line x1="279.7" y1="286.21" x2="277.1" y2="286.21" stroke="#000" stroke-width="1.1" />
<line x1="440.7" y1="286.21" x2="443.3" y2="286.21" stroke="#000" stroke-width="1.1" />
<line x1="279.7" y1="281.78" x2="277.1" y2="281.78" stroke="#000" stroke-width="1.1" />
<line x1="440.7" y1="281.78" x2="443.3" y2="281.78" stroke="#000" stroke-width="1.1" />
<line x1="279.7" y1="277.34" x2="276.1" y2="277.34" stroke="#000" stroke-width="1.1" />
<line x1="440.7" y1="277.34" x2="444.3" y2="277.34" stroke="#000" stroke-width="1.1" />
<line x1="279.7" y1="272.91" x2="277.1" y2="272.91" stroke="#000" stroke-width="1.1" />
<line x1="440.7" y1="272.91" x2="443.3" y2="272.91" stroke="#000" stroke-width="1.1" />
<line x1="279.7" y1="268.47" x2="277.1" y2="268.47" stroke="#000" stroke-width="1.1" />
<line x1="440.7" y1="268.47" x2="443.3" y2="268.47" stroke="#000" stroke-width="1.1" />
<line x1="279.7" y1="264.04" x2="277.1" y2="264.04" stroke="#000" stroke-width="1.1" />
<line x1="440.7" y1="264.04" x2="443.3" y2="264.04" stroke="#000" stroke-width="1.1" />
<line x1="279.7" y1="259.61" x2="277.1" y2="259.61" stroke="#000" stroke-width="1.1" />
<line x1="440.7" y1="259.61" x2="443.3" y2="259.61" stroke="#000" stroke-width="1.1" />
<line x1="279.7" y1="255.17" x2="276.1" y2="255.17" stroke="#000" stroke-width="1.1" />
<line x1="440.7" y1="255.17" x2="444.3" y2="255.17" stroke="#000" stroke-width="1.1" />
<line x1="279.7" y1="250.74" x2="277.1" y2="250.74" stroke="#000" stroke-width="1.1" />
<line x1="440.7" y1="250.74" x2="443.3" y2="250.74" stroke="#000" stroke-width="1.1" />
<line x1="279.7" y1="246.3" x2="277.1" y2="246.3" stroke="#000" stroke-width="1.1" />
<line x1="440.7" y1="246.3" x2="443.3" y2="246.3" stroke="#000" stroke-width="1.1" />
<line x1="279.7" y1="241.87" x2="277.1" y2="241.87" stroke="#000" stroke-width="1.1" />
<line x1="440.7" y1="241.87" x2="443.3" y2="241.87" stroke="#000" stroke-width="1.1" />
<line x1="279.7" y1="237.43" x2="277.1" y2="237.43" stroke="#000" stroke-width="1.1" />
<line x1="440.7" y1="237.43" x2="443.3" y2="237.43" stroke="#000" stroke-width="1.1" />
<line x1="279.7" y1="233" x2="276.1" y2="233" stroke="#000" stroke-width="1.1" />
<line x1="440.7" y1="233" x2="444.3" y2="233" stroke="#000" stroke-width="1.1" />
<line x1="281.66" y1="233" x2="281.66" y2="230.4" stroke="#000" stroke-width="1.1" />
<line x1="281.66" y1="388.2" x2="281.66" y2="390.8" stroke="#000" stroke-width="1.1" />
<line x1="288.9" y1="233" x2="288.9" y2="229.4" stroke="#000" stroke-width="1.1" />
<line x1="288.9" y1="388.2" x2="288.9" y2="391.8" stroke="#000" stroke-width="1.1" />
<line x1="296.14" y1="233" x2="296.14" y2="230.4" stroke="#000" stroke-width="1.1" />
<line x1="296.14" y1="388.2" x2="296.14" y2="390.8" stroke="#000" stroke-width="1.1" />
<line x1="303.38" y1="233" x2="303.38" y2="230.4" stroke="#000" stroke-width="1.1" />
<line x1="303.38" y1="388.2" x2="303.38" y2="390.8" stroke="#000" stroke-width="1.1" />
<line x1="310.62" y1="233" x2="310.62" y2="230.4" stroke="#000" stroke-width="1.1" />
<line x1="310.62" y1="388.2" x2="310.62" y2="390.8" stroke="#000" stroke-width="1.1" />
<line x1="317.86" y1="233" x2="317.86" y2="230.4" stroke="#000" stroke-width="1.1" />
<line x1="317.86" y1="388.2" x2="317.86" y2="390.8" stroke="#000" stroke-width="1.1" />
<line x1="325.1" y1="233" x2="325.1" y2="229.4" stroke="#000" stroke-width="1.1" />
<line x1="325.1" y1="388.2" x2="325.1" y2="391.8" stroke="#000" stroke-width="1.1" />
<line x1="332.34" y1="233" x2="332.34" y2="230.4" stroke="#000" stroke-width="1.1" />
<line x1="332.34" y1="388.2" x2="332.34" y2="390.8" stroke="#000" stroke-width="1.1" />
<line x1="339.58" y1="233" x2="339.58" y2="230.4" stroke="#000" stroke-width="1.1" />
<line x1="339.58" y1="388.2" x2="339.58" y2="390.8" stroke="#000" stroke-width="1.1" />
<line x1="346.82" y1="233" x2="346.82" y2="230.4" stroke="#000" stroke-width="1.1" />
<line x1="346.82" y1="388.2" x2="346.82" y2="390.8" stroke="#000" stroke-width="1.1" />
<line x1="354.06" y1="233" x2="354.06" y2="230.4" stroke="#000" stroke-width="1.1" />
<line x1="354.06" y1="388.2" x2="354.06" y2="390.8" stroke="#000" stroke-width="1.1" />
<line x1="361.3" y1="233" x2="361.3" y2="229.4" stroke="#000" stroke-width="1.1" />
<line x1="361.3" y1="388.2" x2="361.3" y2="391.8" stroke="#000" stroke-width="1.1" />
<line x1="368.54" y1="233" x2="368.54" y2="230.4" stroke="#000" stroke-width="1.1" />
<line x1="368.54" y1="388.2" x2="368.54" y2="390.8" stroke="#000" stroke-width="1.1" />
<line x1="375.78" y1="233" x2="375.78" y2="230.4" stroke="#000" stroke-width="1.1" />
<line x1="375.78" y1="388.2" x2="375.78" y2="390.8" stroke="#000" stroke-width="1.1" />
<line x1="383.02" y1="233" x2="383.02" y2="230.4" stroke="#000" stroke-width="1.1" />
<line x1="383.02" y1="388.2" x2="383.02" y2="390.8" stroke="#000" stroke-width="1.1" />
<line x1="390.26" y1="233" x2="390.26" y2="230.4" stroke="#000" stroke-width="1.1" />
<line x1="390.26" y1="388.2" x2="390.26" y2="390.8" stroke="#000" stroke-width="1.1" />
<line x1="397.5" y1="233" x2="397.5" y2="229.4" stroke="#000" stroke-width="1.1" />
<line x1="397.5" y1="388.2" x2="397.5" y2="391.8" stroke="#000" stroke-width="1.1" />
<line x1="404.74" y1="233" x2="404.74" y2="230.4" stroke="#000" stroke-width="1.1" />
<line x1="404.74" y1="388.2" x2="404.74" y2="390.8" stroke="#000" stroke-width="1.1" />
<line x1="411.98" y1="233" x2="411.98" y2="230.4" stroke="#000" stroke-width="1.1" />
<line x1="411.98" y1="388.2" x2="411.98" y2="390.8" stroke="#000" stroke-width="1.1" />
<line x1="419.22" y1="233" x2="419.22" y2="230.4" stroke="#000" stroke-width="1.1" />
<line x1="419.22" y1="388.2" x2="419.22" y2="390.8" stroke="#000" stroke-width="1.1" />
<line x1="426.46" y1="233" x2="426.46" y2="230.4" stroke="#000" stroke-width="1.1" />
<line x1="426.46" y1="388.2" x2="426.46" y2="390.8" stroke="#000" stroke-width="1.1" />
<line x1="433.7" y1="233" x2="433.7" y2="229.4" stroke="#000" stroke-width="1.1" />
<line x1="433.7" y1="388.2" x2="433.7" y2="391.8" stroke="#000" stroke-width="1.1" />
<text x="275.8" y="395.2" font-size="13.7" text-anchor="end" fill="#000" font-weight="normal" font-style="normal" >1.47</text>
<text x="275.8" y="373.03" font-size="13.7" text-anchor="end" fill="#000" font-weight="normal" font-style="normal" >1.48</text>
<text x="275.8" y="350.86" font-size="13.7" text-anchor="end" fill="#000" font-weight="normal" font-style="normal" >1.49</text>
<text x="275.8" y="328.69" font-size="13.7" text-anchor="end" fill="#000" font-weight="normal" font-style="normal" >1.50</text>
<text x="275.8" y="306.51" font-size="13.7" text-anchor="end" fill="#000" font-weight="normal" font-style="normal" >1.51</text>
<text x="275.8" y="284.34" font-size="13.7" text-anchor="end" fill="#000" font-weight="normal" font-style="normal" >1.52</text>
<text x="275.8" y="262.17" font-size="13.7" text-anchor="end" fill="#000" font-weight="normal" font-style="normal" >1.53</text>
<text x="275.8" y="240" font-size="13.7" text-anchor="end" fill="#000" font-weight="normal" font-style="normal" >1.54</text>
<text x="287.3" y="409.2" font-size="13.7" text-anchor="middle" fill="#000" font-weight="normal" font-style="normal" >-20</text>
<text x="323.5" y="409.2" font-size="13.7" text-anchor="middle" fill="#000" font-weight="normal" font-style="normal" >-10</text>
<text x="362" y="409.2" font-size="13.7" text-anchor="middle" fill="#000" font-weight="normal" font-style="normal" >0</text>
<text x="398.2" y="409.2" font-size="13.7" text-anchor="middle" fill="#000" font-weight="normal" font-style="normal" >10</text>
<text x="434.4" y="409.2" font-size="13.7" text-anchor="middle" fill="#000" font-weight="normal" font-style="normal" >20</text>
<text x="327.4" y="426.2" font-size="13.6">k<tspan font-size="9" dy="3.2">x</tspan><tspan dy="-3.2"> (degree)</tspan></text>
<text transform="translate(243.8,309.7) rotate(-90)" font-size="13.7" text-anchor="middle">Photon energy (eV)</text>
<text x="234.4" y="229.8" font-size="16.6" text-anchor="start" fill="#000" font-weight="bold" font-style="normal" >c</text>
<text x="285.6" y="251.4" font-size="13.8" fill="#fff">6.3 P<tspan font-size="9" dy="3.5" dx="0.3">th</tspan></text>
<defs><radialGradient id="halo"><stop offset="0" stop-color="#3a0000"/><stop offset="0.5" stop-color="#1e0000" stop-opacity="0.8"/><stop offset="1" stop-color="#0c0000" stop-opacity="0"/></radialGradient></defs>
<rect x="526.3" y="21.9" width="116.7" height="39.8" fill="#fff" stroke="#3a3a3a" stroke-width="1"/>
<rect x="484.4" y="61.7" width="41.9" height="113.4" fill="#fff" stroke="#3a3a3a" stroke-width="1"/>
<rect x="643.0" y="61.7" width="41" height="113.4" fill="#fff" stroke="#3a3a3a" stroke-width="1"/>
<line x1="539.2" y1="20.6" x2="539.2" y2="23.2" stroke="#444" stroke-width="0.8" />
<line x1="553" y1="19.9" x2="553" y2="23.9" stroke="#444" stroke-width="0.8" />
<line x1="566.8" y1="20.6" x2="566.8" y2="23.2" stroke="#444" stroke-width="0.8" />
<line x1="580.6" y1="19.9" x2="580.6" y2="23.9" stroke="#444" stroke-width="0.8" />
<line x1="594.4" y1="20.6" x2="594.4" y2="23.2" stroke="#444" stroke-width="0.8" />
<line x1="608.2" y1="19.9" x2="608.2" y2="23.9" stroke="#444" stroke-width="0.8" />
<line x1="622" y1="20.6" x2="622" y2="23.2" stroke="#444" stroke-width="0.8" />
<line x1="635.8" y1="19.9" x2="635.8" y2="23.9" stroke="#444" stroke-width="0.8" />
<line x1="525.1" y1="27.21" x2="527.5" y2="27.21" stroke="#444" stroke-width="0.8" />
<line x1="641.8" y1="27.21" x2="644.2" y2="27.21" stroke="#444" stroke-width="0.8" />
<line x1="524.5" y1="32.51" x2="528.1" y2="32.51" stroke="#444" stroke-width="0.8" />
<line x1="641.2" y1="32.51" x2="644.8" y2="32.51" stroke="#444" stroke-width="0.8" />
<line x1="525.1" y1="37.82" x2="527.5" y2="37.82" stroke="#444" stroke-width="0.8" />
<line x1="641.8" y1="37.82" x2="644.2" y2="37.82" stroke="#444" stroke-width="0.8" />
<line x1="524.5" y1="43.13" x2="528.1" y2="43.13" stroke="#444" stroke-width="0.8" />
<line x1="641.2" y1="43.13" x2="644.8" y2="43.13" stroke="#444" stroke-width="0.8" />
<line x1="525.1" y1="48.43" x2="527.5" y2="48.43" stroke="#444" stroke-width="0.8" />
<line x1="641.8" y1="48.43" x2="644.2" y2="48.43" stroke="#444" stroke-width="0.8" />
<line x1="524.5" y1="53.74" x2="528.1" y2="53.74" stroke="#444" stroke-width="0.8" />
<line x1="641.2" y1="53.74" x2="644.8" y2="53.74" stroke="#444" stroke-width="0.8" />
<line x1="525.1" y1="59.05" x2="527.5" y2="59.05" stroke="#444" stroke-width="0.8" />
<line x1="641.8" y1="59.05" x2="644.2" y2="59.05" stroke="#444" stroke-width="0.8" />
<line x1="530.92" y1="175.1" x2="530.92" y2="176.6" stroke="#444" stroke-width="0.8" />
<line x1="536.44" y1="175.1" x2="536.44" y2="176.6" stroke="#444" stroke-width="0.8" />
<line x1="541.96" y1="175.1" x2="541.96" y2="176.6" stroke="#444" stroke-width="0.8" />
<line x1="547.48" y1="175.1" x2="547.48" y2="176.6" stroke="#444" stroke-width="0.8" />
<line x1="553" y1="175.1" x2="553" y2="177.3" stroke="#444" stroke-width="0.8" />
<line x1="558.52" y1="175.1" x2="558.52" y2="176.6" stroke="#444" stroke-width="0.8" />
<line x1="564.04" y1="175.1" x2="564.04" y2="176.6" stroke="#444" stroke-width="0.8" />
<line x1="569.56" y1="175.1" x2="569.56" y2="176.6" stroke="#444" stroke-width="0.8" />
<line x1="575.08" y1="175.1" x2="575.08" y2="176.6" stroke="#444" stroke-width="0.8" />
<line x1="580.6" y1="175.1" x2="580.6" y2="177.3" stroke="#444" stroke-width="0.8" />
<line x1="586.12" y1="175.1" x2="586.12" y2="176.6" stroke="#444" stroke-width="0.8" />
<line x1="591.64" y1="175.1" x2="591.64" y2="176.6" stroke="#444" stroke-width="0.8" />
<line x1="597.16" y1="175.1" x2="597.16" y2="176.6" stroke="#444" stroke-width="0.8" />
<line x1="602.68" y1="175.1" x2="602.68" y2="176.6" stroke="#444" stroke-width="0.8" />
<line x1="608.2" y1="175.1" x2="608.2" y2="177.3" stroke="#444" stroke-width="0.8" />
<line x1="613.72" y1="175.1" x2="613.72" y2="176.6" stroke="#444" stroke-width="0.8" />
<line x1="619.24" y1="175.1" x2="619.24" y2="176.6" stroke="#444" stroke-width="0.8" />
<line x1="624.76" y1="175.1" x2="624.76" y2="176.6" stroke="#444" stroke-width="0.8" />
<line x1="630.28" y1="175.1" x2="630.28" y2="176.6" stroke="#444" stroke-width="0.8" />
<line x1="635.8" y1="175.1" x2="635.8" y2="177.3" stroke="#444" stroke-width="0.8" />
<line x1="641.32" y1="175.1" x2="641.32" y2="176.6" stroke="#444" stroke-width="0.8" />
<line x1="539.2" y1="61.7" x2="539.2" y2="60.4" stroke="#444" stroke-width="0.8" />
<line x1="553" y1="61.7" x2="553" y2="59.7" stroke="#444" stroke-width="0.8" />
<line x1="566.8" y1="61.7" x2="566.8" y2="60.4" stroke="#444" stroke-width="0.8" />
<line x1="580.6" y1="61.7" x2="580.6" y2="59.7" stroke="#444" stroke-width="0.8" />
<line x1="594.4" y1="61.7" x2="594.4" y2="60.4" stroke="#444" stroke-width="0.8" />
<line x1="608.2" y1="61.7" x2="608.2" y2="59.7" stroke="#444" stroke-width="0.8" />
<line x1="622" y1="61.7" x2="622" y2="60.4" stroke="#444" stroke-width="0.8" />
<line x1="635.8" y1="61.7" x2="635.8" y2="59.7" stroke="#444" stroke-width="0.8" />
<line x1="482.4" y1="174.4" x2="486.4" y2="174.4" stroke="#444" stroke-width="0.8" />
<line x1="682" y1="174.4" x2="686" y2="174.4" stroke="#444" stroke-width="0.8" />
<line x1="643" y1="174.4" x2="645.6" y2="174.4" stroke="#444" stroke-width="0.8" />
<line x1="523.7" y1="174.4" x2="526.3" y2="174.4" stroke="#444" stroke-width="0.8" />
<line x1="483.2" y1="169.1" x2="485.6" y2="169.1" stroke="#444" stroke-width="0.8" />
<line x1="682.8" y1="169.1" x2="685.2" y2="169.1" stroke="#444" stroke-width="0.8" />
<line x1="643" y1="169.1" x2="644.56" y2="169.1" stroke="#444" stroke-width="0.8" />
<line x1="524.74" y1="169.1" x2="526.3" y2="169.1" stroke="#444" stroke-width="0.8" />
<line x1="483.2" y1="163.8" x2="485.6" y2="163.8" stroke="#444" stroke-width="0.8" />
<line x1="682.8" y1="163.8" x2="685.2" y2="163.8" stroke="#444" stroke-width="0.8" />
<line x1="643" y1="163.8" x2="644.56" y2="163.8" stroke="#444" stroke-width="0.8" />
<line x1="524.74" y1="163.8" x2="526.3" y2="163.8" stroke="#444" stroke-width="0.8" />
<line x1="483.2" y1="158.5" x2="485.6" y2="158.5" stroke="#444" stroke-width="0.8" />
<line x1="682.8" y1="158.5" x2="685.2" y2="158.5" stroke="#444" stroke-width="0.8" />
<line x1="643" y1="158.5" x2="644.56" y2="158.5" stroke="#444" stroke-width="0.8" />
<line x1="524.74" y1="158.5" x2="526.3" y2="158.5" stroke="#444" stroke-width="0.8" />
<line x1="483.2" y1="153.2" x2="485.6" y2="153.2" stroke="#444" stroke-width="0.8" />
<line x1="682.8" y1="153.2" x2="685.2" y2="153.2" stroke="#444" stroke-width="0.8" />
<line x1="643" y1="153.2" x2="644.56" y2="153.2" stroke="#444" stroke-width="0.8" />
<line x1="524.74" y1="153.2" x2="526.3" y2="153.2" stroke="#444" stroke-width="0.8" />
<line x1="482.4" y1="147.9" x2="486.4" y2="147.9" stroke="#444" stroke-width="0.8" />
<line x1="682" y1="147.9" x2="686" y2="147.9" stroke="#444" stroke-width="0.8" />
<line x1="643" y1="147.9" x2="645.6" y2="147.9" stroke="#444" stroke-width="0.8" />
<line x1="523.7" y1="147.9" x2="526.3" y2="147.9" stroke="#444" stroke-width="0.8" />
<line x1="483.2" y1="142.6" x2="485.6" y2="142.6" stroke="#444" stroke-width="0.8" />
<line x1="682.8" y1="142.6" x2="685.2" y2="142.6" stroke="#444" stroke-width="0.8" />
<line x1="643" y1="142.6" x2="644.56" y2="142.6" stroke="#444" stroke-width="0.8" />
<line x1="524.74" y1="142.6" x2="526.3" y2="142.6" stroke="#444" stroke-width="0.8" />
<line x1="483.2" y1="137.3" x2="485.6" y2="137.3" stroke="#444" stroke-width="0.8" />
<line x1="682.8" y1="137.3" x2="685.2" y2="137.3" stroke="#444" stroke-width="0.8" />
<line x1="643" y1="137.3" x2="644.56" y2="137.3" stroke="#444" stroke-width="0.8" />
<line x1="524.74" y1="137.3" x2="526.3" y2="137.3" stroke="#444" stroke-width="0.8" />
<line x1="483.2" y1="132" x2="485.6" y2="132" stroke="#444" stroke-width="0.8" />
<line x1="682.8" y1="132" x2="685.2" y2="132" stroke="#444" stroke-width="0.8" />
<line x1="643" y1="132" x2="644.56" y2="132" stroke="#444" stroke-width="0.8" />
<line x1="524.74" y1="132" x2="526.3" y2="132" stroke="#444" stroke-width="0.8" />
<line x1="483.2" y1="126.7" x2="485.6" y2="126.7" stroke="#444" stroke-width="0.8" />
<line x1="682.8" y1="126.7" x2="685.2" y2="126.7" stroke="#444" stroke-width="0.8" />
<line x1="643" y1="126.7" x2="644.56" y2="126.7" stroke="#444" stroke-width="0.8" />
<line x1="524.74" y1="126.7" x2="526.3" y2="126.7" stroke="#444" stroke-width="0.8" />
<line x1="482.4" y1="121.4" x2="486.4" y2="121.4" stroke="#444" stroke-width="0.8" />
<line x1="682" y1="121.4" x2="686" y2="121.4" stroke="#444" stroke-width="0.8" />
<line x1="643" y1="121.4" x2="645.6" y2="121.4" stroke="#444" stroke-width="0.8" />
<line x1="523.7" y1="121.4" x2="526.3" y2="121.4" stroke="#444" stroke-width="0.8" />
<line x1="483.2" y1="116.1" x2="485.6" y2="116.1" stroke="#444" stroke-width="0.8" />
<line x1="682.8" y1="116.1" x2="685.2" y2="116.1" stroke="#444" stroke-width="0.8" />
<line x1="643" y1="116.1" x2="644.56" y2="116.1" stroke="#444" stroke-width="0.8" />
<line x1="524.74" y1="116.1" x2="526.3" y2="116.1" stroke="#444" stroke-width="0.8" />
<line x1="483.2" y1="110.8" x2="485.6" y2="110.8" stroke="#444" stroke-width="0.8" />
<line x1="682.8" y1="110.8" x2="685.2" y2="110.8" stroke="#444" stroke-width="0.8" />
<line x1="643" y1="110.8" x2="644.56" y2="110.8" stroke="#444" stroke-width="0.8" />
<line x1="524.74" y1="110.8" x2="526.3" y2="110.8" stroke="#444" stroke-width="0.8" />
<line x1="483.2" y1="105.5" x2="485.6" y2="105.5" stroke="#444" stroke-width="0.8" />
<line x1="682.8" y1="105.5" x2="685.2" y2="105.5" stroke="#444" stroke-width="0.8" />
<line x1="643" y1="105.5" x2="644.56" y2="105.5" stroke="#444" stroke-width="0.8" />
<line x1="524.74" y1="105.5" x2="526.3" y2="105.5" stroke="#444" stroke-width="0.8" />
<line x1="483.2" y1="100.2" x2="485.6" y2="100.2" stroke="#444" stroke-width="0.8" />
<line x1="682.8" y1="100.2" x2="685.2" y2="100.2" stroke="#444" stroke-width="0.8" />
<line x1="643" y1="100.2" x2="644.56" y2="100.2" stroke="#444" stroke-width="0.8" />
<line x1="524.74" y1="100.2" x2="526.3" y2="100.2" stroke="#444" stroke-width="0.8" />
<line x1="482.4" y1="94.9" x2="486.4" y2="94.9" stroke="#444" stroke-width="0.8" />
<line x1="682" y1="94.9" x2="686" y2="94.9" stroke="#444" stroke-width="0.8" />
<line x1="643" y1="94.9" x2="645.6" y2="94.9" stroke="#444" stroke-width="0.8" />
<line x1="523.7" y1="94.9" x2="526.3" y2="94.9" stroke="#444" stroke-width="0.8" />
<line x1="483.2" y1="89.6" x2="485.6" y2="89.6" stroke="#444" stroke-width="0.8" />
<line x1="682.8" y1="89.6" x2="685.2" y2="89.6" stroke="#444" stroke-width="0.8" />
<line x1="643" y1="89.6" x2="644.56" y2="89.6" stroke="#444" stroke-width="0.8" />
<line x1="524.74" y1="89.6" x2="526.3" y2="89.6" stroke="#444" stroke-width="0.8" />
<line x1="483.2" y1="84.3" x2="485.6" y2="84.3" stroke="#444" stroke-width="0.8" />
<line x1="682.8" y1="84.3" x2="685.2" y2="84.3" stroke="#444" stroke-width="0.8" />
<line x1="643" y1="84.3" x2="644.56" y2="84.3" stroke="#444" stroke-width="0.8" />
<line x1="524.74" y1="84.3" x2="526.3" y2="84.3" stroke="#444" stroke-width="0.8" />
<line x1="483.2" y1="79" x2="485.6" y2="79" stroke="#444" stroke-width="0.8" />
<line x1="682.8" y1="79" x2="685.2" y2="79" stroke="#444" stroke-width="0.8" />
<line x1="643" y1="79" x2="644.56" y2="79" stroke="#444" stroke-width="0.8" />
<line x1="524.74" y1="79" x2="526.3" y2="79" stroke="#444" stroke-width="0.8" />
<line x1="483.2" y1="73.7" x2="485.6" y2="73.7" stroke="#444" stroke-width="0.8" />
<line x1="682.8" y1="73.7" x2="685.2" y2="73.7" stroke="#444" stroke-width="0.8" />
<line x1="643" y1="73.7" x2="644.56" y2="73.7" stroke="#444" stroke-width="0.8" />
<line x1="524.74" y1="73.7" x2="526.3" y2="73.7" stroke="#444" stroke-width="0.8" />
<line x1="482.4" y1="68.4" x2="486.4" y2="68.4" stroke="#444" stroke-width="0.8" />
<line x1="682" y1="68.4" x2="686" y2="68.4" stroke="#444" stroke-width="0.8" />
<line x1="643" y1="68.4" x2="645.6" y2="68.4" stroke="#444" stroke-width="0.8" />
<line x1="523.7" y1="68.4" x2="526.3" y2="68.4" stroke="#444" stroke-width="0.8" />
<line x1="483.2" y1="63.1" x2="485.6" y2="63.1" stroke="#444" stroke-width="0.8" />
<line x1="682.8" y1="63.1" x2="685.2" y2="63.1" stroke="#444" stroke-width="0.8" />
<line x1="643" y1="63.1" x2="644.56" y2="63.1" stroke="#444" stroke-width="0.8" />
<line x1="524.74" y1="63.1" x2="526.3" y2="63.1" stroke="#444" stroke-width="0.8" />
<line x1="489" y1="60.5" x2="489" y2="62.9" stroke="#444" stroke-width="0.8" />
<line x1="489" y1="173.9" x2="489" y2="176.3" stroke="#444" stroke-width="0.8" />
<line x1="647.6" y1="60.5" x2="647.6" y2="62.9" stroke="#444" stroke-width="0.8" />
<line x1="647.6" y1="173.9" x2="647.6" y2="176.3" stroke="#444" stroke-width="0.8" />
<line x1="493.6" y1="59.7" x2="493.6" y2="63.7" stroke="#444" stroke-width="0.8" />
<line x1="493.6" y1="173.1" x2="493.6" y2="177.1" stroke="#444" stroke-width="0.8" />
<line x1="652.2" y1="59.7" x2="652.2" y2="63.7" stroke="#444" stroke-width="0.8" />
<line x1="652.2" y1="173.1" x2="652.2" y2="177.1" stroke="#444" stroke-width="0.8" />
<line x1="498.2" y1="60.5" x2="498.2" y2="62.9" stroke="#444" stroke-width="0.8" />
<line x1="498.2" y1="173.9" x2="498.2" y2="176.3" stroke="#444" stroke-width="0.8" />
<line x1="656.8" y1="60.5" x2="656.8" y2="62.9" stroke="#444" stroke-width="0.8" />
<line x1="656.8" y1="173.9" x2="656.8" y2="176.3" stroke="#444" stroke-width="0.8" />
<line x1="502.8" y1="59.7" x2="502.8" y2="63.7" stroke="#444" stroke-width="0.8" />
<line x1="502.8" y1="173.1" x2="502.8" y2="177.1" stroke="#444" stroke-width="0.8" />
<line x1="661.4" y1="59.7" x2="661.4" y2="63.7" stroke="#444" stroke-width="0.8" />
<line x1="661.4" y1="173.1" x2="661.4" y2="177.1" stroke="#444" stroke-width="0.8" />
<line x1="507.4" y1="60.5" x2="507.4" y2="62.9" stroke="#444" stroke-width="0.8" />
<line x1="507.4" y1="173.9" x2="507.4" y2="176.3" stroke="#444" stroke-width="0.8" />
<line x1="666" y1="60.5" x2="666" y2="62.9" stroke="#444" stroke-width="0.8" />
<line x1="666" y1="173.9" x2="666" y2="176.3" stroke="#444" stroke-width="0.8" />
<line x1="512" y1="59.7" x2="512" y2="63.7" stroke="#444" stroke-width="0.8" />
<line x1="512" y1="173.1" x2="512" y2="177.1" stroke="#444" stroke-width="0.8" />
<line x1="670.6" y1="59.7" x2="670.6" y2="63.7" stroke="#444" stroke-width="0.8" />
<line x1="670.6" y1="173.1" x2="670.6" y2="177.1" stroke="#444" stroke-width="0.8" />
<line x1="516.6" y1="60.5" x2="516.6" y2="62.9" stroke="#444" stroke-width="0.8" />
<line x1="516.6" y1="173.9" x2="516.6" y2="176.3" stroke="#444" stroke-width="0.8" />
<line x1="675.2" y1="60.5" x2="675.2" y2="62.9" stroke="#444" stroke-width="0.8" />
<line x1="675.2" y1="173.9" x2="675.2" y2="176.3" stroke="#444" stroke-width="0.8" />
<line x1="521.2" y1="59.7" x2="521.2" y2="63.7" stroke="#444" stroke-width="0.8" />
<line x1="521.2" y1="173.1" x2="521.2" y2="177.1" stroke="#444" stroke-width="0.8" />
<line x1="679.8" y1="59.7" x2="679.8" y2="63.7" stroke="#444" stroke-width="0.8" />
<line x1="679.8" y1="173.1" x2="679.8" y2="177.1" stroke="#444" stroke-width="0.8" />
<clipPath id="cid"><rect x="526.3" y="61.7" width="116.7" height="113.4"/></clipPath>
<g clip-path="url(#cid)">
<rect x="526.3" y="61.7" width="116.7" height="113.4" fill="#0c0000"/>
<ellipse cx="584" cy="119" rx="44" ry="42" fill="url(#halo)"/>
<g style="mix-blend-mode:screen"><g filter="url(#hot)">
<rect x="526.3" y="61.7" width="116.7" height="113.4" fill="#000"/>
<ellipse cx="582.5" cy="119" rx="21" ry="22" fill="rgb(66,66,66)" filter="url(#b3)"/>
<ellipse cx="575.3" cy="122" rx="8.5" ry="15" fill="rgb(128,128,128)" filter="url(#b2)"/>
<ellipse cx="591" cy="117" rx="9" ry="17" fill="rgb(140,140,140)" filter="url(#b2)"/>
<ellipse cx="583" cy="120" rx="6" ry="12" fill="rgb(117,117,117)" filter="url(#b2)"/>
<ellipse cx="575.3" cy="123.5" rx="4.6" ry="11" fill="rgb(189,189,189)" filter="url(#b2)"/>
<ellipse cx="591" cy="116.5" rx="5" ry="13" fill="rgb(199,199,199)" filter="url(#b2)"/>
<ellipse cx="590.5" cy="119" rx="2.2" ry="5" fill="rgb(230,230,230)" filter="url(#b15)"/>
</g></g></g>
<path d="M526.5 61.2C530.75 61.2 547.2 61.23 552 61.2C556.8 61.17 553.88 61.27 555.3 61C556.72 60.73 558.5 60.98 560.5 59.6C562.5 58.22 565.3 55.28 567.3 52.7C569.3 50.12 570.92 46.68 572.5 44.1C574.08 41.52 575.5 37.92 576.8 37.2C578.1 36.48 579 38.78 580.3 39.8C581.6 40.82 583.32 43.3 584.6 43.3C585.88 43.3 586.85 41.02 588 39.8C589.15 38.58 590.2 36 591.5 36C592.8 36 594.37 37.87 595.8 39.8C597.23 41.73 598.67 44.58 600.1 47.6C601.53 50.62 602.97 55.67 604.4 57.9C605.83 60.13 607.43 60.45 608.7 61C609.97 61.55 606.37 61.17 612 61.2C617.63 61.23 637.42 61.2 642.5 61.2" fill="none" stroke="#222" stroke-width="0.9"/>
<path d="M525.8 62C525.8 65.83 525.95 80.5 525.8 85C525.65 89.5 525.28 87.37 524.9 89C524.52 90.63 524.42 93.02 523.5 94.8C522.58 96.58 521.17 97.8 519.4 99.7C517.63 101.6 515.07 104.03 512.9 106.2C510.73 108.37 508.17 110.67 506.4 112.7C504.63 114.73 503.17 116.78 502.3 118.4C501.43 120.02 501.2 120.92 501.2 122.4C501.2 123.88 501.43 125.67 502.3 127.3C503.17 128.93 504.63 130.57 506.4 132.2C508.17 133.83 510.73 135.47 512.9 137.1C515.07 138.73 517.5 140.52 519.4 142C521.3 143.48 523.23 144.92 524.3 146C525.37 147.08 525.55 143.73 525.8 148.5C526.05 153.27 525.8 170.25 525.8 174.6" fill="none" stroke="#222" stroke-width="0.9"/>
<path d="M643.5 62C643.5 66 642.95 80.47 643.5 86C644.05 91.53 644.98 92.78 646.8 95.2C648.62 97.62 651.75 98.62 654.4 100.5C657.05 102.38 660.43 104.62 662.7 106.5C664.97 108.38 666.73 109.9 668 111.8C669.27 113.7 670.17 116 670.3 117.9C670.43 119.8 670.07 121.43 668.8 123.2C667.53 124.97 665.1 126.87 662.7 128.5C660.3 130.13 656.92 131.62 654.4 133C651.88 134.38 649.42 135.28 647.6 136.8C645.78 138.32 644.18 135.8 643.5 142.1C642.82 148.4 643.5 169.18 643.5 174.6" fill="none" stroke="#222" stroke-width="0.9"/>
<line x1="553.7" y1="119.2" x2="608.1" y2="119.2" stroke="#fff" stroke-width="1.1" />
<line x1="576.4" y1="95.2" x2="576.4" y2="149.2" stroke="#fff" stroke-width="1.0" stroke-dasharray="3 2"/>
<line x1="590.5" y1="95.2" x2="590.5" y2="149.2" stroke="#fff" stroke-width="1.0" stroke-dasharray="3 2"/>
<text x="612.1" y="123.2" font-size="13.5" text-anchor="start" fill="#fff" font-weight="normal" font-style="normal" >x</text>
<text x="566.5" y="151.2" font-size="13" fill="#fff">y<tspan font-size="9" dy="3.5">L</tspan></text>
<text x="596.3" y="151.2" font-size="13" fill="#fff">y<tspan font-size="9" dy="3.5">R</tspan></text>
<text x="583.5" y="76.3" font-size="12.6" text-anchor="middle" fill="#fff" font-weight="normal" font-style="normal" >Non-interfered</text>
<text x="583.5" y="91.5" font-size="12.6" text-anchor="middle" fill="#fff" font-weight="normal" font-style="normal" >(single arm)</text>
<text x="463.7" y="16" font-size="16.6" text-anchor="start" fill="#000" font-weight="bold" font-style="normal" >d</text>
<text x="627.5" y="35.9" font-size="13.5" text-anchor="start" fill="#000" font-weight="normal" font-style="italic" >x</text>
<text x="490.8" y="76.1" font-size="13.5" font-style="italic">y<tspan font-size="9.8" dy="2.4">L</tspan></text>
<text x="667.8" y="76.9" font-size="13.5" font-style="italic">y<tspan font-size="9.5" dy="2.6">R</tspan></text>
<text x="478.4" y="181.4" font-size="13.7" text-anchor="end" fill="#000" font-weight="normal" font-style="normal" >0</text>
<text x="525.8" y="195.7" font-size="13.7" text-anchor="middle" fill="#000" font-weight="normal" font-style="normal" >0</text>
<text x="478.4" y="154.9" font-size="13.7" text-anchor="end" fill="#000" font-weight="normal" font-style="normal" >5</text>
<text x="553.4" y="195.7" font-size="13.7" text-anchor="middle" fill="#000" font-weight="normal" font-style="normal" >5</text>
<text x="478.4" y="128.4" font-size="13.7" text-anchor="end" fill="#000" font-weight="normal" font-style="normal" >10</text>
<text x="581" y="195.7" font-size="13.7" text-anchor="middle" fill="#000" font-weight="normal" font-style="normal" >10</text>
<text x="478.4" y="101.9" font-size="13.7" text-anchor="end" fill="#000" font-weight="normal" font-style="normal" >15</text>
<text x="608.6" y="195.7" font-size="13.7" text-anchor="middle" fill="#000" font-weight="normal" font-style="normal" >15</text>
<text x="478.4" y="75.4" font-size="13.7" text-anchor="end" fill="#000" font-weight="normal" font-style="normal" >20</text>
<text x="636.2" y="195.7" font-size="13.7" text-anchor="middle" fill="#000" font-weight="normal" font-style="normal" >20</text>
<text x="581.5" y="210.9" font-size="13.2" text-anchor="middle"><tspan font-style="italic">x</tspan> (μm)</text>
<text transform="translate(458.6,115.7) rotate(-90)" font-size="13.2" text-anchor="middle"><tspan font-style="italic">y</tspan> (μm)</text>
<rect x="526.3" y="236.3" width="116.7" height="39.8" fill="#fff" stroke="#3a3a3a" stroke-width="1"/>
<rect x="484.4" y="276.1" width="41.9" height="113.4" fill="#fff" stroke="#3a3a3a" stroke-width="1"/>
<rect x="643.0" y="276.1" width="41" height="113.4" fill="#fff" stroke="#3a3a3a" stroke-width="1"/>
<line x1="539.2" y1="235" x2="539.2" y2="237.6" stroke="#444" stroke-width="0.8" />
<line x1="553" y1="234.3" x2="553" y2="238.3" stroke="#444" stroke-width="0.8" />
<line x1="566.8" y1="235" x2="566.8" y2="237.6" stroke="#444" stroke-width="0.8" />
<line x1="580.6" y1="234.3" x2="580.6" y2="238.3" stroke="#444" stroke-width="0.8" />
<line x1="594.4" y1="235" x2="594.4" y2="237.6" stroke="#444" stroke-width="0.8" />
<line x1="608.2" y1="234.3" x2="608.2" y2="238.3" stroke="#444" stroke-width="0.8" />
<line x1="622" y1="235" x2="622" y2="237.6" stroke="#444" stroke-width="0.8" />
<line x1="635.8" y1="234.3" x2="635.8" y2="238.3" stroke="#444" stroke-width="0.8" />
<line x1="525.1" y1="241.61" x2="527.5" y2="241.61" stroke="#444" stroke-width="0.8" />
<line x1="641.8" y1="241.61" x2="644.2" y2="241.61" stroke="#444" stroke-width="0.8" />
<line x1="524.5" y1="246.91" x2="528.1" y2="246.91" stroke="#444" stroke-width="0.8" />
<line x1="641.2" y1="246.91" x2="644.8" y2="246.91" stroke="#444" stroke-width="0.8" />
<line x1="525.1" y1="252.22" x2="527.5" y2="252.22" stroke="#444" stroke-width="0.8" />
<line x1="641.8" y1="252.22" x2="644.2" y2="252.22" stroke="#444" stroke-width="0.8" />
<line x1="524.5" y1="257.53" x2="528.1" y2="257.53" stroke="#444" stroke-width="0.8" />
<line x1="641.2" y1="257.53" x2="644.8" y2="257.53" stroke="#444" stroke-width="0.8" />
<line x1="525.1" y1="262.83" x2="527.5" y2="262.83" stroke="#444" stroke-width="0.8" />
<line x1="641.8" y1="262.83" x2="644.2" y2="262.83" stroke="#444" stroke-width="0.8" />
<line x1="524.5" y1="268.14" x2="528.1" y2="268.14" stroke="#444" stroke-width="0.8" />
<line x1="641.2" y1="268.14" x2="644.8" y2="268.14" stroke="#444" stroke-width="0.8" />
<line x1="525.1" y1="273.45" x2="527.5" y2="273.45" stroke="#444" stroke-width="0.8" />
<line x1="641.8" y1="273.45" x2="644.2" y2="273.45" stroke="#444" stroke-width="0.8" />
<line x1="530.92" y1="389.5" x2="530.92" y2="391" stroke="#444" stroke-width="0.8" />
<line x1="536.44" y1="389.5" x2="536.44" y2="391" stroke="#444" stroke-width="0.8" />
<line x1="541.96" y1="389.5" x2="541.96" y2="391" stroke="#444" stroke-width="0.8" />
<line x1="547.48" y1="389.5" x2="547.48" y2="391" stroke="#444" stroke-width="0.8" />
<line x1="553" y1="389.5" x2="553" y2="391.7" stroke="#444" stroke-width="0.8" />
<line x1="558.52" y1="389.5" x2="558.52" y2="391" stroke="#444" stroke-width="0.8" />
<line x1="564.04" y1="389.5" x2="564.04" y2="391" stroke="#444" stroke-width="0.8" />
<line x1="569.56" y1="389.5" x2="569.56" y2="391" stroke="#444" stroke-width="0.8" />
<line x1="575.08" y1="389.5" x2="575.08" y2="391" stroke="#444" stroke-width="0.8" />
<line x1="580.6" y1="389.5" x2="580.6" y2="391.7" stroke="#444" stroke-width="0.8" />
<line x1="586.12" y1="389.5" x2="586.12" y2="391" stroke="#444" stroke-width="0.8" />
<line x1="591.64" y1="389.5" x2="591.64" y2="391" stroke="#444" stroke-width="0.8" />
<line x1="597.16" y1="389.5" x2="597.16" y2="391" stroke="#444" stroke-width="0.8" />
<line x1="602.68" y1="389.5" x2="602.68" y2="391" stroke="#444" stroke-width="0.8" />
<line x1="608.2" y1="389.5" x2="608.2" y2="391.7" stroke="#444" stroke-width="0.8" />
<line x1="613.72" y1="389.5" x2="613.72" y2="391" stroke="#444" stroke-width="0.8" />
<line x1="619.24" y1="389.5" x2="619.24" y2="391" stroke="#444" stroke-width="0.8" />
<line x1="624.76" y1="389.5" x2="624.76" y2="391" stroke="#444" stroke-width="0.8" />
<line x1="630.28" y1="389.5" x2="630.28" y2="391" stroke="#444" stroke-width="0.8" />
<line x1="635.8" y1="389.5" x2="635.8" y2="391.7" stroke="#444" stroke-width="0.8" />
<line x1="641.32" y1="389.5" x2="641.32" y2="391" stroke="#444" stroke-width="0.8" />
<line x1="539.2" y1="276.1" x2="539.2" y2="274.8" stroke="#444" stroke-width="0.8" />
<line x1="553" y1="276.1" x2="553" y2="274.1" stroke="#444" stroke-width="0.8" />
<line x1="566.8" y1="276.1" x2="566.8" y2="274.8" stroke="#444" stroke-width="0.8" />
<line x1="580.6" y1="276.1" x2="580.6" y2="274.1" stroke="#444" stroke-width="0.8" />
<line x1="594.4" y1="276.1" x2="594.4" y2="274.8" stroke="#444" stroke-width="0.8" />
<line x1="608.2" y1="276.1" x2="608.2" y2="274.1" stroke="#444" stroke-width="0.8" />
<line x1="622" y1="276.1" x2="622" y2="274.8" stroke="#444" stroke-width="0.8" />
<line x1="635.8" y1="276.1" x2="635.8" y2="274.1" stroke="#444" stroke-width="0.8" />
<line x1="482.4" y1="388.8" x2="486.4" y2="388.8" stroke="#444" stroke-width="0.8" />
<line x1="682" y1="388.8" x2="686" y2="388.8" stroke="#444" stroke-width="0.8" />
<line x1="643" y1="388.8" x2="645.6" y2="388.8" stroke="#444" stroke-width="0.8" />
<line x1="523.7" y1="388.8" x2="526.3" y2="388.8" stroke="#444" stroke-width="0.8" />
<line x1="483.2" y1="383.5" x2="485.6" y2="383.5" stroke="#444" stroke-width="0.8" />
<line x1="682.8" y1="383.5" x2="685.2" y2="383.5" stroke="#444" stroke-width="0.8" />
<line x1="643" y1="383.5" x2="644.56" y2="383.5" stroke="#444" stroke-width="0.8" />
<line x1="524.74" y1="383.5" x2="526.3" y2="383.5" stroke="#444" stroke-width="0.8" />
<line x1="483.2" y1="378.2" x2="485.6" y2="378.2" stroke="#444" stroke-width="0.8" />
<line x1="682.8" y1="378.2" x2="685.2" y2="378.2" stroke="#444" stroke-width="0.8" />
<line x1="643" y1="378.2" x2="644.56" y2="378.2" stroke="#444" stroke-width="0.8" />
<line x1="524.74" y1="378.2" x2="526.3" y2="378.2" stroke="#444" stroke-width="0.8" />
<line x1="483.2" y1="372.9" x2="485.6" y2="372.9" stroke="#444" stroke-width="0.8" />
<line x1="682.8" y1="372.9" x2="685.2" y2="372.9" stroke="#444" stroke-width="0.8" />
<line x1="643" y1="372.9" x2="644.56" y2="372.9" stroke="#444" stroke-width="0.8" />
<line x1="524.74" y1="372.9" x2="526.3" y2="372.9" stroke="#444" stroke-width="0.8" />
<line x1="483.2" y1="367.6" x2="485.6" y2="367.6" stroke="#444" stroke-width="0.8" />
<line x1="682.8" y1="367.6" x2="685.2" y2="367.6" stroke="#444" stroke-width="0.8" />
<line x1="643" y1="367.6" x2="644.56" y2="367.6" stroke="#444" stroke-width="0.8" />
<line x1="524.74" y1="367.6" x2="526.3" y2="367.6" stroke="#444" stroke-width="0.8" />
<line x1="482.4" y1="362.3" x2="486.4" y2="362.3" stroke="#444" stroke-width="0.8" />
<line x1="682" y1="362.3" x2="686" y2="362.3" stroke="#444" stroke-width="0.8" />
<line x1="643" y1="362.3" x2="645.6" y2="362.3" stroke="#444" stroke-width="0.8" />
<line x1="523.7" y1="362.3" x2="526.3" y2="362.3" stroke="#444" stroke-width="0.8" />
<line x1="483.2" y1="357" x2="485.6" y2="357" stroke="#444" stroke-width="0.8" />
<line x1="682.8" y1="357" x2="685.2" y2="357" stroke="#444" stroke-width="0.8" />
<line x1="643" y1="357" x2="644.56" y2="357" stroke="#444" stroke-width="0.8" />
<line x1="524.74" y1="357" x2="526.3" y2="357" stroke="#444" stroke-width="0.8" />
<line x1="483.2" y1="351.7" x2="485.6" y2="351.7" stroke="#444" stroke-width="0.8" />
<line x1="682.8" y1="351.7" x2="685.2" y2="351.7" stroke="#444" stroke-width="0.8" />
<line x1="643" y1="351.7" x2="644.56" y2="351.7" stroke="#444" stroke-width="0.8" />
<line x1="524.74" y1="351.7" x2="526.3" y2="351.7" stroke="#444" stroke-width="0.8" />
<line x1="483.2" y1="346.4" x2="485.6" y2="346.4" stroke="#444" stroke-width="0.8" />
<line x1="682.8" y1="346.4" x2="685.2" y2="346.4" stroke="#444" stroke-width="0.8" />
<line x1="643" y1="346.4" x2="644.56" y2="346.4" stroke="#444" stroke-width="0.8" />
<line x1="524.74" y1="346.4" x2="526.3" y2="346.4" stroke="#444" stroke-width="0.8" />
<line x1="483.2" y1="341.1" x2="485.6" y2="341.1" stroke="#444" stroke-width="0.8" />
<line x1="682.8" y1="341.1" x2="685.2" y2="341.1" stroke="#444" stroke-width="0.8" />
<line x1="643" y1="341.1" x2="644.56" y2="341.1" stroke="#444" stroke-width="0.8" />
<line x1="524.74" y1="341.1" x2="526.3" y2="341.1" stroke="#444" stroke-width="0.8" />
<line x1="482.4" y1="335.8" x2="486.4" y2="335.8" stroke="#444" stroke-width="0.8" />
<line x1="682" y1="335.8" x2="686" y2="335.8" stroke="#444" stroke-width="0.8" />
<line x1="643" y1="335.8" x2="645.6" y2="335.8" stroke="#444" stroke-width="0.8" />
<line x1="523.7" y1="335.8" x2="526.3" y2="335.8" stroke="#444" stroke-width="0.8" />
<line x1="483.2" y1="330.5" x2="485.6" y2="330.5" stroke="#444" stroke-width="0.8" />
<line x1="682.8" y1="330.5" x2="685.2" y2="330.5" stroke="#444" stroke-width="0.8" />
<line x1="643" y1="330.5" x2="644.56" y2="330.5" stroke="#444" stroke-width="0.8" />
<line x1="524.74" y1="330.5" x2="526.3" y2="330.5" stroke="#444" stroke-width="0.8" />
<line x1="483.2" y1="325.2" x2="485.6" y2="325.2" stroke="#444" stroke-width="0.8" />
<line x1="682.8" y1="325.2" x2="685.2" y2="325.2" stroke="#444" stroke-width="0.8" />
<line x1="643" y1="325.2" x2="644.56" y2="325.2" stroke="#444" stroke-width="0.8" />
<line x1="524.74" y1="325.2" x2="526.3" y2="325.2" stroke="#444" stroke-width="0.8" />
<line x1="483.2" y1="319.9" x2="485.6" y2="319.9" stroke="#444" stroke-width="0.8" />
<line x1="682.8" y1="319.9" x2="685.2" y2="319.9" stroke="#444" stroke-width="0.8" />
<line x1="643" y1="319.9" x2="644.56" y2="319.9" stroke="#444" stroke-width="0.8" />
<line x1="524.74" y1="319.9" x2="526.3" y2="319.9" stroke="#444" stroke-width="0.8" />
<line x1="483.2" y1="314.6" x2="485.6" y2="314.6" stroke="#444" stroke-width="0.8" />
<line x1="682.8" y1="314.6" x2="685.2" y2="314.6" stroke="#444" stroke-width="0.8" />
<line x1="643" y1="314.6" x2="644.56" y2="314.6" stroke="#444" stroke-width="0.8" />
<line x1="524.74" y1="314.6" x2="526.3" y2="314.6" stroke="#444" stroke-width="0.8" />
<line x1="482.4" y1="309.3" x2="486.4" y2="309.3" stroke="#444" stroke-width="0.8" />
<line x1="682" y1="309.3" x2="686" y2="309.3" stroke="#444" stroke-width="0.8" />
<line x1="643" y1="309.3" x2="645.6" y2="309.3" stroke="#444" stroke-width="0.8" />
<line x1="523.7" y1="309.3" x2="526.3" y2="309.3" stroke="#444" stroke-width="0.8" />
<line x1="483.2" y1="304" x2="485.6" y2="304" stroke="#444" stroke-width="0.8" />
<line x1="682.8" y1="304" x2="685.2" y2="304" stroke="#444" stroke-width="0.8" />
<line x1="643" y1="304" x2="644.56" y2="304" stroke="#444" stroke-width="0.8" />
<line x1="524.74" y1="304" x2="526.3" y2="304" stroke="#444" stroke-width="0.8" />
<line x1="483.2" y1="298.7" x2="485.6" y2="298.7" stroke="#444" stroke-width="0.8" />
<line x1="682.8" y1="298.7" x2="685.2" y2="298.7" stroke="#444" stroke-width="0.8" />
<line x1="643" y1="298.7" x2="644.56" y2="298.7" stroke="#444" stroke-width="0.8" />
<line x1="524.74" y1="298.7" x2="526.3" y2="298.7" stroke="#444" stroke-width="0.8" />
<line x1="483.2" y1="293.4" x2="485.6" y2="293.4" stroke="#444" stroke-width="0.8" />
<line x1="682.8" y1="293.4" x2="685.2" y2="293.4" stroke="#444" stroke-width="0.8" />
<line x1="643" y1="293.4" x2="644.56" y2="293.4" stroke="#444" stroke-width="0.8" />
<line x1="524.74" y1="293.4" x2="526.3" y2="293.4" stroke="#444" stroke-width="0.8" />
<line x1="483.2" y1="288.1" x2="485.6" y2="288.1" stroke="#444" stroke-width="0.8" />
<line x1="682.8" y1="288.1" x2="685.2" y2="288.1" stroke="#444" stroke-width="0.8" />
<line x1="643" y1="288.1" x2="644.56" y2="288.1" stroke="#444" stroke-width="0.8" />
<line x1="524.74" y1="288.1" x2="526.3" y2="288.1" stroke="#444" stroke-width="0.8" />
<line x1="482.4" y1="282.8" x2="486.4" y2="282.8" stroke="#444" stroke-width="0.8" />
<line x1="682" y1="282.8" x2="686" y2="282.8" stroke="#444" stroke-width="0.8" />
<line x1="643" y1="282.8" x2="645.6" y2="282.8" stroke="#444" stroke-width="0.8" />
<line x1="523.7" y1="282.8" x2="526.3" y2="282.8" stroke="#444" stroke-width="0.8" />
<line x1="483.2" y1="277.5" x2="485.6" y2="277.5" stroke="#444" stroke-width="0.8" />
<line x1="682.8" y1="277.5" x2="685.2" y2="277.5" stroke="#444" stroke-width="0.8" />
<line x1="643" y1="277.5" x2="644.56" y2="277.5" stroke="#444" stroke-width="0.8" />
<line x1="524.74" y1="277.5" x2="526.3" y2="277.5" stroke="#444" stroke-width="0.8" />
<line x1="489" y1="274.9" x2="489" y2="277.3" stroke="#444" stroke-width="0.8" />
<line x1="489" y1="388.3" x2="489" y2="390.7" stroke="#444" stroke-width="0.8" />
<line x1="647.6" y1="274.9" x2="647.6" y2="277.3" stroke="#444" stroke-width="0.8" />
<line x1="647.6" y1="388.3" x2="647.6" y2="390.7" stroke="#444" stroke-width="0.8" />
<line x1="493.6" y1="274.1" x2="493.6" y2="278.1" stroke="#444" stroke-width="0.8" />
<line x1="493.6" y1="387.5" x2="493.6" y2="391.5" stroke="#444" stroke-width="0.8" />
<line x1="652.2" y1="274.1" x2="652.2" y2="278.1" stroke="#444" stroke-width="0.8" />
<line x1="652.2" y1="387.5" x2="652.2" y2="391.5" stroke="#444" stroke-width="0.8" />
<line x1="498.2" y1="274.9" x2="498.2" y2="277.3" stroke="#444" stroke-width="0.8" />
<line x1="498.2" y1="388.3" x2="498.2" y2="390.7" stroke="#444" stroke-width="0.8" />
<line x1="656.8" y1="274.9" x2="656.8" y2="277.3" stroke="#444" stroke-width="0.8" />
<line x1="656.8" y1="388.3" x2="656.8" y2="390.7" stroke="#444" stroke-width="0.8" />
<line x1="502.8" y1="274.1" x2="502.8" y2="278.1" stroke="#444" stroke-width="0.8" />
<line x1="502.8" y1="387.5" x2="502.8" y2="391.5" stroke="#444" stroke-width="0.8" />
<line x1="661.4" y1="274.1" x2="661.4" y2="278.1" stroke="#444" stroke-width="0.8" />
<line x1="661.4" y1="387.5" x2="661.4" y2="391.5" stroke="#444" stroke-width="0.8" />
<line x1="507.4" y1="274.9" x2="507.4" y2="277.3" stroke="#444" stroke-width="0.8" />
<line x1="507.4" y1="388.3" x2="507.4" y2="390.7" stroke="#444" stroke-width="0.8" />
<line x1="666" y1="274.9" x2="666" y2="277.3" stroke="#444" stroke-width="0.8" />
<line x1="666" y1="388.3" x2="666" y2="390.7" stroke="#444" stroke-width="0.8" />
<line x1="512" y1="274.1" x2="512" y2="278.1" stroke="#444" stroke-width="0.8" />
<line x1="512" y1="387.5" x2="512" y2="391.5" stroke="#444" stroke-width="0.8" />
<line x1="670.6" y1="274.1" x2="670.6" y2="278.1" stroke="#444" stroke-width="0.8" />
<line x1="670.6" y1="387.5" x2="670.6" y2="391.5" stroke="#444" stroke-width="0.8" />
<line x1="516.6" y1="274.9" x2="516.6" y2="277.3" stroke="#444" stroke-width="0.8" />
<line x1="516.6" y1="388.3" x2="516.6" y2="390.7" stroke="#444" stroke-width="0.8" />
<line x1="675.2" y1="274.9" x2="675.2" y2="277.3" stroke="#444" stroke-width="0.8" />
<line x1="675.2" y1="388.3" x2="675.2" y2="390.7" stroke="#444" stroke-width="0.8" />
<line x1="521.2" y1="274.1" x2="521.2" y2="278.1" stroke="#444" stroke-width="0.8" />
<line x1="521.2" y1="387.5" x2="521.2" y2="391.5" stroke="#444" stroke-width="0.8" />
<line x1="679.8" y1="274.1" x2="679.8" y2="278.1" stroke="#444" stroke-width="0.8" />
<line x1="679.8" y1="387.5" x2="679.8" y2="391.5" stroke="#444" stroke-width="0.8" />
<clipPath id="cie"><rect x="526.3" y="276.1" width="116.7" height="113.4"/></clipPath>
<g clip-path="url(#cie)">
<rect x="526.3" y="276.1" width="116.7" height="113.4" fill="#0c0000"/>
<ellipse cx="584" cy="333.4" rx="44" ry="42" fill="url(#halo)"/>
<g style="mix-blend-mode:screen"><g filter="url(#hot)">
<rect x="526.3" y="276.1" width="116.7" height="113.4" fill="#000"/>
<ellipse cx="584" cy="333" rx="19.5" ry="18.5" fill="rgb(84,84,84)" filter="url(#b3)"/>
<ellipse cx="586" cy="333" rx="13" ry="13" fill="rgb(102,102,102)" filter="url(#b3)"/>
<ellipse cx="573" cy="322" rx="5" ry="3.5" fill="rgb(128,128,128)" filter="url(#b15)"/>
<ellipse cx="578" cy="317" rx="3" ry="3" fill="rgb(117,117,117)" filter="url(#b15)"/>
<ellipse cx="591" cy="318" rx="3.2" ry="4.5" fill="rgb(138,138,138)" filter="url(#b15)"/>
<ellipse cx="597" cy="325" rx="3" ry="3" fill="rgb(122,122,122)" filter="url(#b15)"/>
<ellipse cx="599" cy="334" rx="3" ry="5" fill="rgb(128,128,128)" filter="url(#b2)"/>
<ellipse cx="585" cy="329" rx="6" ry="6" fill="rgb(117,117,117)" filter="url(#b2)"/>
<ellipse cx="570" cy="334" rx="3" ry="3" fill="rgb(117,117,117)" filter="url(#b15)"/>
<ellipse cx="576.5" cy="336.5" rx="3.2" ry="2.8" fill="rgb(173,173,173)" filter="url(#b15)"/>
<ellipse cx="578" cy="345" rx="3.5" ry="3.5" fill="rgb(168,168,168)" filter="url(#b15)"/>
<ellipse cx="578" cy="352" rx="3" ry="3" fill="rgb(112,112,112)" filter="url(#b15)"/>
<ellipse cx="592" cy="336.3" rx="7" ry="3.5" fill="rgb(189,189,189)" filter="url(#b15)"/>
<ellipse cx="591" cy="336.3" rx="2.8" ry="1.6" fill="rgb(242,242,242)" filter="url(#b1)"/>
</g></g></g>
<path d="M526.5 275.4C530.92 275.4 548.07 275.42 553 275.4C557.93 275.38 554.72 275.73 556.1 275.3C557.48 274.87 559.43 274.37 561.3 272.8C563.17 271.23 565.58 267.77 567.3 265.9C569.02 264.03 570.45 263.47 571.6 261.6C572.75 259.73 573.18 256.43 574.2 254.7C575.22 252.97 576.68 251.07 577.7 251.2C578.72 251.33 579.45 254.28 580.3 255.5C581.15 256.72 581.8 258.63 582.8 258.5C583.8 258.37 585.28 256.48 586.3 254.7C587.32 252.92 588.1 249.75 588.9 247.8C589.7 245.85 590.1 243.28 591.1 243C592.1 242.72 593.55 244.43 594.9 246.1C596.25 247.77 598.05 250.42 599.2 253C600.35 255.58 600.8 258.45 601.8 261.6C602.8 264.75 604.05 269.62 605.2 271.9C606.35 274.18 607.57 274.72 608.7 275.3C609.83 275.88 606.37 275.38 612 275.4C617.63 275.42 637.42 275.4 642.5 275.4" fill="none" stroke="#222" stroke-width="0.9"/>
<path d="M525.8 276.3C525.8 280.75 525.93 297.98 525.8 303C525.67 308.02 525.6 305.15 525 306.4C524.4 307.65 523.45 309.18 522.2 310.5C520.95 311.82 519.37 312.73 517.5 314.3C515.63 315.87 513.02 318.35 511 319.9C508.98 321.45 506.48 322.52 505.4 323.6C504.32 324.68 504.35 325.32 504.5 326.4C504.65 327.48 506.62 329.27 506.3 330.1C505.98 330.93 504 330.62 502.6 331.4C501.2 332.18 498.05 334.08 497.9 334.8C497.75 335.52 500.6 335.23 501.7 335.7C502.8 336.17 504.5 336.97 504.5 337.6C504.5 338.23 501.7 338.88 501.7 339.5C501.7 340.12 505.13 340.53 504.5 341.3C503.87 342.07 498.37 343.47 497.9 344.1C497.43 344.73 500.13 344.78 501.7 345.1C503.27 345.42 505.6 345.23 507.3 346C509 346.77 510.2 348.62 511.9 349.7C513.6 350.78 515.78 351.57 517.5 352.5C519.22 353.43 520.95 354.45 522.2 355.3C523.45 356.15 524.4 356.98 525 357.6C525.6 358.22 525.67 353.77 525.8 359C525.93 364.23 525.8 384 525.8 389" fill="none" stroke="#222" stroke-width="0.9"/>
<path d="M643.5 276.3C643.5 280.42 643.47 296.53 643.5 301C643.53 305.47 643.03 301.82 643.7 303.1C644.37 304.38 645.93 307.47 647.5 308.7C649.07 309.93 651.87 309.57 653.1 310.5C654.33 311.43 653.2 313.05 654.9 314.3C656.6 315.55 661.58 317.07 663.3 318C665.02 318.93 665.2 319.12 665.2 319.9C665.2 320.68 662.83 321.62 663.3 322.7C663.77 323.78 667.83 325.17 668 326.4C668.17 327.63 663.68 329.02 664.3 330.1C664.92 331.18 669.37 331.97 671.7 332.9C674.03 333.83 678.6 334.77 678.3 335.7C678 336.63 672.55 337.72 669.9 338.5C667.25 339.28 664.27 339.3 662.4 340.4C660.53 341.5 660.57 343.7 658.7 345.1C656.83 346.5 653.7 347.25 651.2 348.8C648.7 350.35 644.98 353.2 643.7 354.4C642.42 355.6 643.53 350.23 643.5 356C643.47 361.77 643.5 383.5 643.5 389" fill="none" stroke="#222" stroke-width="0.9"/>
<line x1="558" y1="336.4" x2="611.8" y2="336.4" stroke="#fff" stroke-width="1.1" />
<line x1="576.4" y1="309.6" x2="576.4" y2="363.6" stroke="#fff" stroke-width="1.0" stroke-dasharray="3 2"/>
<line x1="590.5" y1="309.6" x2="590.5" y2="363.6" stroke="#fff" stroke-width="1.0" stroke-dasharray="3 2"/>
<text x="615.8" y="340.4" font-size="13.5" text-anchor="start" fill="#fff" font-weight="normal" font-style="normal" >x</text>
<text x="566.5" y="365.6" font-size="13" fill="#fff">y<tspan font-size="9" dy="3.5">L</tspan></text>
<text x="596.3" y="365.6" font-size="13" fill="#fff">y<tspan font-size="9" dy="3.5">R</tspan></text>
<text x="583.5" y="290.7" font-size="12.6" text-anchor="middle" fill="#fff" font-weight="normal" font-style="normal" >Interfered</text>
<text x="583.5" y="305.9" font-size="12.6" text-anchor="middle" fill="#fff" font-weight="normal" font-style="normal" >(double arm)</text>
<text x="461.6" y="229.3" font-size="16.6" text-anchor="start" fill="#000" font-weight="bold" font-style="normal" >e</text>
<text x="627.5" y="250.3" font-size="13.5" text-anchor="start" fill="#000" font-weight="normal" font-style="italic" >x</text>
<text x="490.8" y="290.5" font-size="13.5" font-style="italic">y<tspan font-size="9.8" dy="2.4">L</tspan></text>
<text x="667.8" y="291.3" font-size="13.5" font-style="italic">y<tspan font-size="9.5" dy="2.6">R</tspan></text>
<text x="478.4" y="395.8" font-size="13.7" text-anchor="end" fill="#000" font-weight="normal" font-style="normal" >0</text>
<text x="525.8" y="410.1" font-size="13.7" text-anchor="middle" fill="#000" font-weight="normal" font-style="normal" >0</text>
<text x="478.4" y="369.3" font-size="13.7" text-anchor="end" fill="#000" font-weight="normal" font-style="normal" >5</text>
<text x="553.4" y="410.1" font-size="13.7" text-anchor="middle" fill="#000" font-weight="normal" font-style="normal" >5</text>
<text x="478.4" y="342.8" font-size="13.7" text-anchor="end" fill="#000" font-weight="normal" font-style="normal" >10</text>
<text x="581" y="410.1" font-size="13.7" text-anchor="middle" fill="#000" font-weight="normal" font-style="normal" >10</text>
<text x="478.4" y="316.3" font-size="13.7" text-anchor="end" fill="#000" font-weight="normal" font-style="normal" >15</text>
<text x="608.6" y="410.1" font-size="13.7" text-anchor="middle" fill="#000" font-weight="normal" font-style="normal" >15</text>
<text x="478.4" y="289.8" font-size="13.7" text-anchor="end" fill="#000" font-weight="normal" font-style="normal" >20</text>
<text x="636.2" y="410.1" font-size="13.7" text-anchor="middle" fill="#000" font-weight="normal" font-style="normal" >20</text>
<text x="581.5" y="425.3" font-size="13.2" text-anchor="middle"><tspan font-style="italic">x</tspan> (μm)</text>
<text transform="translate(458.6,330.1) rotate(-90)" font-size="13.2" text-anchor="middle"><tspan font-style="italic">y</tspan> (μm)</text>
</svg>
</body></html>
